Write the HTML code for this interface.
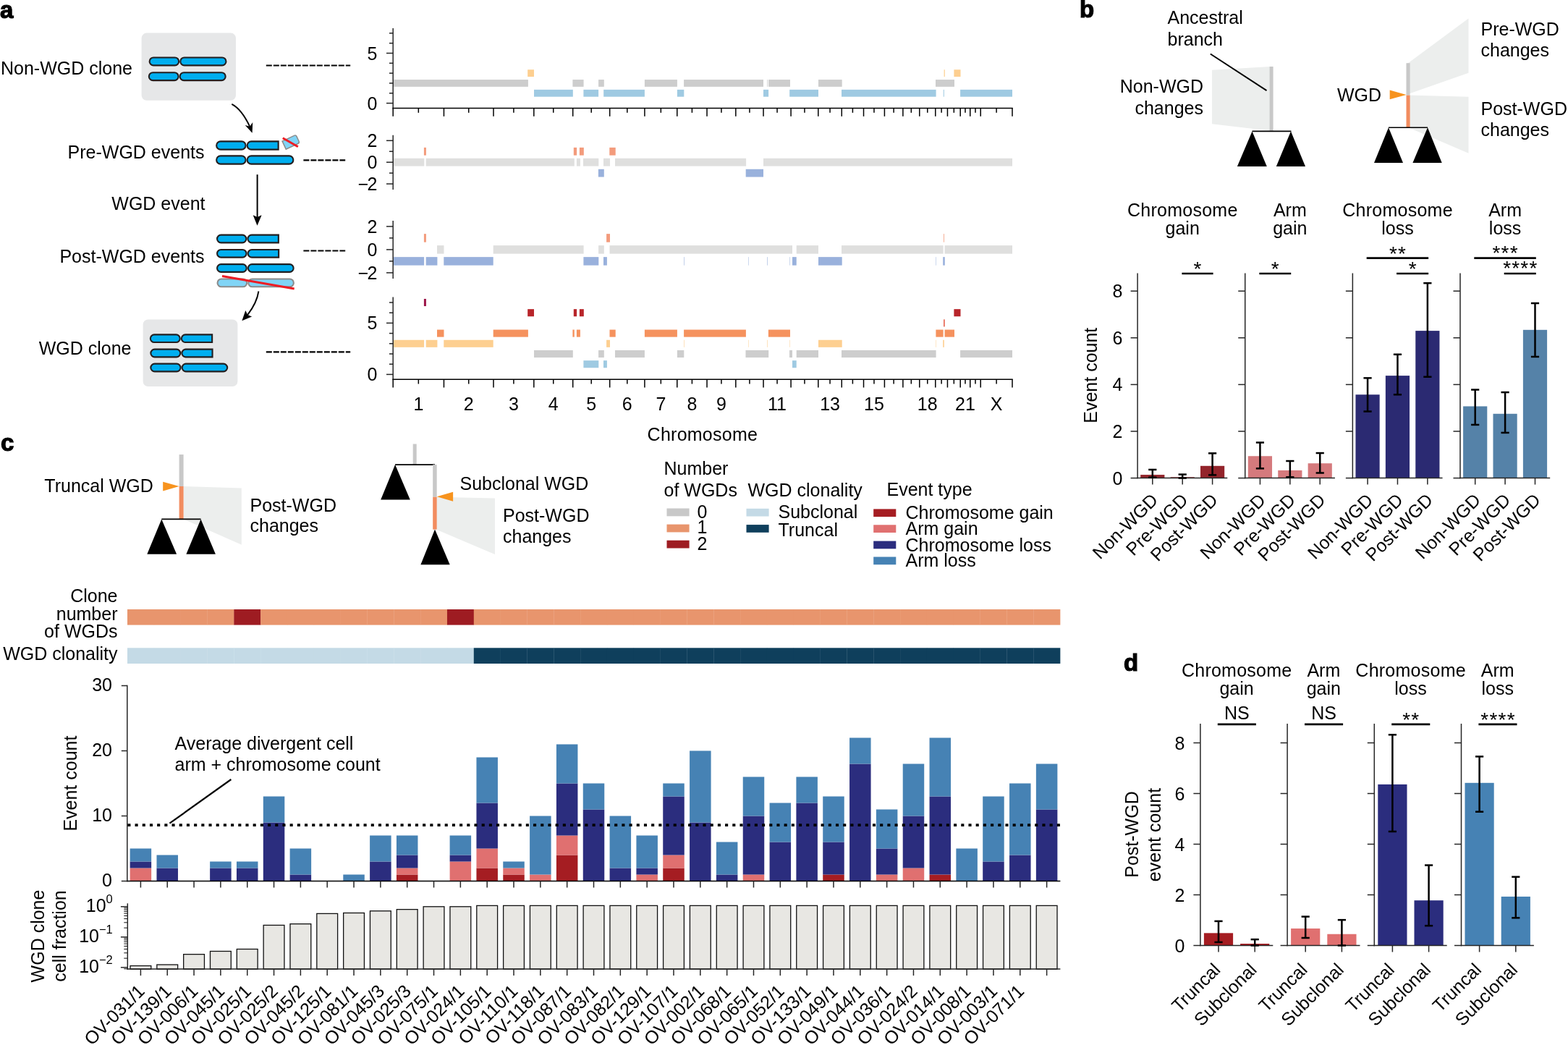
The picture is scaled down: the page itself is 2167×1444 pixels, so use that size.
<!DOCTYPE html>
<html><head><meta charset="utf-8"><title>Figure</title>
<style>html,body{margin:0;padding:0;background:#fff;}svg{display:block;}</style></head>
<body><svg width="2167" height="1444" viewBox="0 0 2167 1444" font-family="'Liberation Sans', Arial, Helvetica, sans-serif" font-size="25" fill="#000">
<rect width="2167" height="1444" fill="#fff"/>
<text x="0" y="24.5" font-size="33" font-weight="bold" stroke="#000" stroke-width="1.2">a</text>
<text x="1" y="103">Non-WGD clone</text>
<text x="282.5" y="219.3" text-anchor="end">Pre-WGD events</text>
<text x="283.5" y="289.5" text-anchor="end">WGD event</text>
<text x="282.5" y="363.4" text-anchor="end">Post-WGD events</text>
<text x="181.5" y="489.8" text-anchor="end">WGD clone</text>
<rect x="195.6" y="45.6" width="130.4" height="93.2" rx="7" fill="#e6e7e8"/>
<rect x="197.6" y="441.4" width="130.8" height="92.7" rx="7" fill="#e6e7e8"/>
<rect x="206.65" y="79.45" width="40.5" height="10.9" rx="5.45" fill="#00aeef" stroke="#231f20" stroke-width="2.1"/>
<rect x="249.25" y="79.45" width="63.2" height="10.9" rx="5.45" fill="#00aeef" stroke="#231f20" stroke-width="2.1"/>
<rect x="205.85" y="100.25" width="40.7" height="10.9" rx="5.45" fill="#00aeef" stroke="#231f20" stroke-width="2.1"/>
<rect x="248.65" y="100.25" width="63" height="10.9" rx="5.45" fill="#00aeef" stroke="#231f20" stroke-width="2.1"/>
<rect x="299.15" y="195.35" width="40.4" height="11.3" rx="5.65" fill="#00aeef" stroke="#231f20" stroke-width="2.1"/>
<path d="M347.3,195.35H384.65V206.65H347.3A5.65,5.65 0 0 1 347.3,195.35Z" fill="#00aeef" stroke="#231f20" stroke-width="2.1"/>
<rect x="299.15" y="215.35" width="40.4" height="11.3" rx="5.65" fill="#00aeef" stroke="#231f20" stroke-width="2.1"/>
<rect x="341.65" y="215.35" width="63.7" height="11.3" rx="5.65" fill="#00aeef" stroke="#231f20" stroke-width="2.1"/>
<g transform="translate(401.9 196.3) rotate(-25)"><path d="M-10.2,-6.1H8A2.6,2.6 0 0 1 10.6,-3.5V3.5A2.6,2.6 0 0 1 8,6.1H-10.2Z" fill="#80d4f6" stroke="#8c8c8c" stroke-width="1.5"/></g>
<line x1="390.8" y1="190.8" x2="411.8" y2="202.8" stroke="#ed1c24" stroke-width="3"/>
<rect x="300.05" y="324.65" width="40.3" height="10.7" rx="5.35" fill="#00aeef" stroke="#231f20" stroke-width="2.1"/>
<path d="M347.8,324.65H384.85V335.35H347.8A5.35,5.35 0 0 1 347.8,324.65Z" fill="#00aeef" stroke="#231f20" stroke-width="2.1"/>
<rect x="300.05" y="344.95" width="40.5" height="10.7" rx="5.35" fill="#00aeef" stroke="#231f20" stroke-width="2.1"/>
<path d="M348,344.95H385.15V355.65H348A5.35,5.35 0 0 1 348,344.95Z" fill="#00aeef" stroke="#231f20" stroke-width="2.1"/>
<rect x="300.05" y="365.15" width="40.7" height="10.7" rx="5.35" fill="#00aeef" stroke="#231f20" stroke-width="2.1"/>
<rect x="342.85" y="365.15" width="62.8" height="10.7" rx="5.35" fill="#00aeef" stroke="#231f20" stroke-width="2.1"/>
<rect x="300.55" y="385.55" width="40.6" height="10.7" rx="5.35" fill="#80d4f6" stroke="#8c8c8c" stroke-width="2.1"/>
<rect x="343.25" y="385.55" width="62.6" height="10.7" rx="5.35" fill="#80d4f6" stroke="#8c8c8c" stroke-width="2.1"/>
<line x1="307" y1="381.4" x2="406.7" y2="399.1" stroke="#ed1c24" stroke-width="3"/>
<rect x="207.85" y="462.35" width="40.9" height="10.7" rx="5.35" fill="#00aeef" stroke="#231f20" stroke-width="2.1"/>
<path d="M256.2,462.35H293.15V473.05H256.2A5.35,5.35 0 0 1 256.2,462.35Z" fill="#00aeef" stroke="#231f20" stroke-width="2.1"/>
<rect x="208.35" y="482.65" width="40.9" height="10.7" rx="5.35" fill="#00aeef" stroke="#231f20" stroke-width="2.1"/>
<path d="M256.7,482.65H293.55V493.35H256.7A5.35,5.35 0 0 1 256.7,482.65Z" fill="#00aeef" stroke="#231f20" stroke-width="2.1"/>
<rect x="208.35" y="502.65" width="41.2" height="10.7" rx="5.35" fill="#00aeef" stroke="#231f20" stroke-width="2.1"/>
<rect x="251.65" y="502.65" width="62.5" height="10.7" rx="5.35" fill="#00aeef" stroke="#231f20" stroke-width="2.1"/>
<path d="M320.3,143.9 Q333.75,150.75 345.2,174.8" fill="none" stroke="#000" stroke-width="1.9"/>
<polygon points="348.6,183.8 338.7,173 345.3,174.8 349.2,168.9" fill="#000"/>
<line x1="355.6" y1="241.2" x2="355.6" y2="301" stroke="#000" stroke-width="2"/>
<polygon points="355.5,311.7 349.7,297.2 355.6,300.1 361.6,297.2" fill="#000"/>
<path d="M357.4,402.5 Q355,418.5 342.3,434.8" fill="none" stroke="#000" stroke-width="1.9"/>
<polygon points="334.4,443.3 339.3,429 342.2,434.9 348.1,437.4" fill="#000"/>
<line x1="367.8" y1="90.5" x2="484.2" y2="90.5" stroke="#000" stroke-width="2.2" stroke-dasharray="8 2"/>
<line x1="419.4" y1="221.3" x2="477.2" y2="221.3" stroke="#000" stroke-width="2.2" stroke-dasharray="8 2"/>
<line x1="419.4" y1="346.5" x2="477.2" y2="346.5" stroke="#000" stroke-width="2.2" stroke-dasharray="8 2"/>
<line x1="367.8" y1="486.3" x2="484.2" y2="486.3" stroke="#000" stroke-width="2.2" stroke-dasharray="8 2"/>
<rect x="544.1" y="110.05" width="185.8" height="9.81" fill="#cdcdcd"/>
<rect x="791.4" y="110.05" width="15.2" height="9.81" fill="#cdcdcd"/>
<rect x="827.1" y="110.05" width="7.7" height="9.81" fill="#cdcdcd"/>
<rect x="890.9" y="110.05" width="45" height="9.81" fill="#cdcdcd"/>
<rect x="945.1" y="110.05" width="109.9" height="9.81" fill="#cdcdcd"/>
<rect x="1060.1" y="110.05" width="0.8" height="9.81" fill="#cdcdcd"/>
<rect x="1062.1" y="110.05" width="29.9" height="9.81" fill="#cdcdcd"/>
<rect x="1131" y="110.05" width="32.7" height="9.81" fill="#cdcdcd"/>
<rect x="1293" y="110.05" width="26" height="9.81" fill="#cdcdcd"/>
<rect x="738" y="123.87" width="53.8" height="9.81" fill="#9fcae2"/>
<rect x="806.4" y="123.87" width="20.7" height="9.81" fill="#9fcae2"/>
<rect x="834.2" y="123.87" width="56.7" height="9.81" fill="#9fcae2"/>
<rect x="935.9" y="123.87" width="9.4" height="9.81" fill="#9fcae2"/>
<rect x="1055" y="123.87" width="7.1" height="9.81" fill="#9fcae2"/>
<rect x="1091.2" y="123.87" width="39.8" height="9.81" fill="#9fcae2"/>
<rect x="1163" y="123.87" width="130.6" height="9.81" fill="#9fcae2"/>
<rect x="1303.8" y="123.87" width="1" height="9.81" fill="#9fcae2"/>
<rect x="1327.1" y="123.87" width="71.9" height="9.81" fill="#9fcae2"/>
<rect x="729.2" y="96.23" width="8.8" height="9.81" fill="#fdcf90"/>
<rect x="1304.6" y="96.23" width="1.2" height="9.81" fill="#fdcf90"/>
<rect x="1318.4" y="96.23" width="9.1" height="9.81" fill="#fdcf90"/>
<line x1="543.2" y1="38.9" x2="543.2" y2="150.35" stroke="#262626" stroke-width="1.5"/>
<line x1="534" y1="142.6" x2="543.2" y2="142.6" stroke="#262626" stroke-width="1.5"/>
<text x="521.5" y="151.6" text-anchor="end">0</text>
<line x1="534" y1="73.5" x2="543.2" y2="73.5" stroke="#262626" stroke-width="1.5"/>
<text x="521.5" y="82.5" text-anchor="end">5</text>
<line x1="538" y1="128.78" x2="543.2" y2="128.78" stroke="#262626" stroke-width="1.5"/>
<line x1="538" y1="114.96" x2="543.2" y2="114.96" stroke="#262626" stroke-width="1.5"/>
<line x1="538" y1="101.14" x2="543.2" y2="101.14" stroke="#262626" stroke-width="1.5"/>
<line x1="538" y1="87.32" x2="543.2" y2="87.32" stroke="#262626" stroke-width="1.5"/>
<line x1="538" y1="59.68" x2="543.2" y2="59.68" stroke="#262626" stroke-width="1.5"/>
<line x1="538" y1="45.86" x2="543.2" y2="45.86" stroke="#262626" stroke-width="1.5"/>
<line x1="542.45" y1="149.6" x2="1399.75" y2="149.6" stroke="#000" stroke-width="1.5"/>
<line x1="543.2" y1="149.6" x2="543.2" y2="160.8" stroke="#000" stroke-width="1.5"/>
<line x1="613.46" y1="149.6" x2="613.46" y2="160.8" stroke="#000" stroke-width="1.5"/>
<line x1="682.01" y1="149.6" x2="682.01" y2="160.8" stroke="#000" stroke-width="1.5"/>
<line x1="737.82" y1="149.6" x2="737.82" y2="160.8" stroke="#000" stroke-width="1.5"/>
<line x1="791.7" y1="149.6" x2="791.7" y2="160.8" stroke="#000" stroke-width="1.5"/>
<line x1="842.69" y1="149.6" x2="842.69" y2="160.8" stroke="#000" stroke-width="1.5"/>
<line x1="890.92" y1="149.6" x2="890.92" y2="160.8" stroke="#000" stroke-width="1.5"/>
<line x1="935.77" y1="149.6" x2="935.77" y2="160.8" stroke="#000" stroke-width="1.5"/>
<line x1="977.03" y1="149.6" x2="977.03" y2="160.8" stroke="#000" stroke-width="1.5"/>
<line x1="1016.83" y1="149.6" x2="1016.83" y2="160.8" stroke="#000" stroke-width="1.5"/>
<line x1="1055.03" y1="149.6" x2="1055.03" y2="160.8" stroke="#000" stroke-width="1.5"/>
<line x1="1093.08" y1="149.6" x2="1093.08" y2="160.8" stroke="#000" stroke-width="1.5"/>
<line x1="1130.81" y1="149.6" x2="1130.81" y2="160.8" stroke="#000" stroke-width="1.5"/>
<line x1="1163.28" y1="149.6" x2="1163.28" y2="160.8" stroke="#000" stroke-width="1.5"/>
<line x1="1193.53" y1="149.6" x2="1193.53" y2="160.8" stroke="#000" stroke-width="1.5"/>
<line x1="1222.42" y1="149.6" x2="1222.42" y2="160.8" stroke="#000" stroke-width="1.5"/>
<line x1="1247.89" y1="149.6" x2="1247.89" y2="160.8" stroke="#000" stroke-width="1.5"/>
<line x1="1270.78" y1="149.6" x2="1270.78" y2="160.8" stroke="#000" stroke-width="1.5"/>
<line x1="1292.79" y1="149.6" x2="1292.79" y2="160.8" stroke="#000" stroke-width="1.5"/>
<line x1="1309.45" y1="149.6" x2="1309.45" y2="160.8" stroke="#000" stroke-width="1.5"/>
<line x1="1327.21" y1="149.6" x2="1327.21" y2="160.8" stroke="#000" stroke-width="1.5"/>
<line x1="1340.76" y1="149.6" x2="1340.76" y2="160.8" stroke="#000" stroke-width="1.5"/>
<line x1="1355.22" y1="149.6" x2="1355.22" y2="160.8" stroke="#000" stroke-width="1.5"/>
<line x1="1399" y1="149.6" x2="1399" y2="160.8" stroke="#000" stroke-width="1.5"/>
<line x1="578.33" y1="149.6" x2="578.33" y2="155.8" stroke="#000" stroke-width="1.5"/>
<line x1="647.73" y1="149.6" x2="647.73" y2="155.8" stroke="#000" stroke-width="1.5"/>
<line x1="709.91" y1="149.6" x2="709.91" y2="155.8" stroke="#000" stroke-width="1.5"/>
<line x1="764.76" y1="149.6" x2="764.76" y2="155.8" stroke="#000" stroke-width="1.5"/>
<line x1="817.2" y1="149.6" x2="817.2" y2="155.8" stroke="#000" stroke-width="1.5"/>
<line x1="866.81" y1="149.6" x2="866.81" y2="155.8" stroke="#000" stroke-width="1.5"/>
<line x1="913.34" y1="149.6" x2="913.34" y2="155.8" stroke="#000" stroke-width="1.5"/>
<line x1="956.4" y1="149.6" x2="956.4" y2="155.8" stroke="#000" stroke-width="1.5"/>
<line x1="996.93" y1="149.6" x2="996.93" y2="155.8" stroke="#000" stroke-width="1.5"/>
<line x1="1035.93" y1="149.6" x2="1035.93" y2="155.8" stroke="#000" stroke-width="1.5"/>
<line x1="1074.05" y1="149.6" x2="1074.05" y2="155.8" stroke="#000" stroke-width="1.5"/>
<line x1="1111.95" y1="149.6" x2="1111.95" y2="155.8" stroke="#000" stroke-width="1.5"/>
<line x1="1147.05" y1="149.6" x2="1147.05" y2="155.8" stroke="#000" stroke-width="1.5"/>
<line x1="1178.4" y1="149.6" x2="1178.4" y2="155.8" stroke="#000" stroke-width="1.5"/>
<line x1="1207.97" y1="149.6" x2="1207.97" y2="155.8" stroke="#000" stroke-width="1.5"/>
<line x1="1235.15" y1="149.6" x2="1235.15" y2="155.8" stroke="#000" stroke-width="1.5"/>
<line x1="1259.33" y1="149.6" x2="1259.33" y2="155.8" stroke="#000" stroke-width="1.5"/>
<line x1="1281.78" y1="149.6" x2="1281.78" y2="155.8" stroke="#000" stroke-width="1.5"/>
<line x1="1301.12" y1="149.6" x2="1301.12" y2="155.8" stroke="#000" stroke-width="1.5"/>
<line x1="1318.33" y1="149.6" x2="1318.33" y2="155.8" stroke="#000" stroke-width="1.5"/>
<line x1="1333.99" y1="149.6" x2="1333.99" y2="155.8" stroke="#000" stroke-width="1.5"/>
<line x1="1347.99" y1="149.6" x2="1347.99" y2="155.8" stroke="#000" stroke-width="1.5"/>
<line x1="1377.11" y1="149.6" x2="1377.11" y2="155.8" stroke="#000" stroke-width="1.5"/>
<rect x="544.1" y="218.82" width="42.2" height="10.76" fill="#dfdfde"/>
<rect x="588.7" y="218.82" width="205.1" height="10.76" fill="#dfdfde"/>
<rect x="796.9" y="218.82" width="5" height="10.76" fill="#dfdfde"/>
<rect x="806" y="218.82" width="21.3" height="10.76" fill="#dfdfde"/>
<rect x="834" y="218.82" width="9" height="10.76" fill="#dfdfde"/>
<rect x="850" y="218.82" width="181.1" height="10.76" fill="#dfdfde"/>
<rect x="1055" y="218.82" width="344" height="10.76" fill="#dfdfde"/>
<rect x="585.9" y="203.87" width="3" height="10.76" fill="#f39b7c"/>
<rect x="792.8" y="203.87" width="4.3" height="10.76" fill="#f39b7c"/>
<rect x="800.9" y="203.87" width="5.9" height="10.76" fill="#f39b7c"/>
<rect x="842.3" y="203.87" width="8.4" height="10.76" fill="#f39b7c"/>
<rect x="826.9" y="233.77" width="7.9" height="10.76" fill="#99b1dc"/>
<rect x="1030.7" y="233.77" width="24.3" height="10.76" fill="#99b1dc"/>
<line x1="543.2" y1="186.8" x2="543.2" y2="261.9" stroke="#262626" stroke-width="1.5"/>
<line x1="534" y1="254.1" x2="543.2" y2="254.1" stroke="#262626" stroke-width="1.5"/>
<text x="521.5" y="263.1" text-anchor="end">−<tspan dx="-1.8">2</tspan></text>
<line x1="534" y1="224.2" x2="543.2" y2="224.2" stroke="#262626" stroke-width="1.5"/>
<text x="521.5" y="233.2" text-anchor="end">0</text>
<line x1="534" y1="194.3" x2="543.2" y2="194.3" stroke="#262626" stroke-width="1.5"/>
<text x="521.5" y="203.3" text-anchor="end">2</text>
<line x1="538" y1="239.15" x2="543.2" y2="239.15" stroke="#262626" stroke-width="1.5"/>
<line x1="538" y1="209.25" x2="543.2" y2="209.25" stroke="#262626" stroke-width="1.5"/>
<rect x="604" y="339.14" width="9.5" height="11.52" fill="#dfdfde"/>
<rect x="681.7" y="339.14" width="124.9" height="11.52" fill="#dfdfde"/>
<rect x="827.1" y="339.14" width="7.7" height="11.52" fill="#dfdfde"/>
<rect x="842.5" y="339.14" width="252.5" height="11.52" fill="#dfdfde"/>
<rect x="1100.7" y="339.14" width="30.3" height="11.52" fill="#dfdfde"/>
<rect x="1163" y="339.14" width="140.6" height="11.52" fill="#dfdfde"/>
<rect x="1305.6" y="339.14" width="93.4" height="11.52" fill="#dfdfde"/>
<rect x="585.9" y="323.14" width="3" height="11.52" fill="#f39b7c"/>
<rect x="838.1" y="323.14" width="4.9" height="11.52" fill="#f39b7c"/>
<rect x="1304" y="323.14" width="0.8" height="11.52" fill="#f39b7c"/>
<rect x="544.1" y="355.14" width="42" height="11.52" fill="#99b1dc"/>
<rect x="588.7" y="355.14" width="15.7" height="11.52" fill="#99b1dc"/>
<rect x="613.3" y="355.14" width="68.4" height="11.52" fill="#99b1dc"/>
<rect x="806.4" y="355.14" width="20.9" height="11.52" fill="#99b1dc"/>
<rect x="834" y="355.14" width="4.9" height="11.52" fill="#99b1dc"/>
<rect x="945.1" y="355.14" width="0.6" height="11.52" fill="#99b1dc"/>
<rect x="1034.3" y="355.14" width="0.5" height="11.52" fill="#99b1dc"/>
<rect x="1060.3" y="355.14" width="0.6" height="11.52" fill="#99b1dc"/>
<rect x="1091.4" y="355.14" width="0.5" height="11.52" fill="#99b1dc"/>
<rect x="1095" y="355.14" width="5.7" height="11.52" fill="#99b1dc"/>
<rect x="1131" y="355.14" width="32.7" height="11.52" fill="#99b1dc"/>
<rect x="1293.2" y="355.14" width="0.5" height="11.52" fill="#99b1dc"/>
<rect x="1303.2" y="355.14" width="2.6" height="11.52" fill="#99b1dc"/>
<line x1="543.2" y1="304.9" x2="543.2" y2="384.9" stroke="#262626" stroke-width="1.5"/>
<line x1="534" y1="376.9" x2="543.2" y2="376.9" stroke="#262626" stroke-width="1.5"/>
<text x="521.5" y="385.9" text-anchor="end">−<tspan dx="-1.8">2</tspan></text>
<line x1="534" y1="344.9" x2="543.2" y2="344.9" stroke="#262626" stroke-width="1.5"/>
<text x="521.5" y="353.9" text-anchor="end">0</text>
<line x1="534" y1="312.9" x2="543.2" y2="312.9" stroke="#262626" stroke-width="1.5"/>
<text x="521.5" y="321.9" text-anchor="end">2</text>
<line x1="538" y1="360.9" x2="543.2" y2="360.9" stroke="#262626" stroke-width="1.5"/>
<line x1="538" y1="328.9" x2="543.2" y2="328.9" stroke="#262626" stroke-width="1.5"/>
<rect x="544.1" y="469.76" width="42" height="10.08" fill="#fdcf90"/>
<rect x="588.7" y="469.76" width="15.7" height="10.08" fill="#fdcf90"/>
<rect x="613.3" y="469.76" width="68.4" height="10.08" fill="#fdcf90"/>
<rect x="838.1" y="469.76" width="4.9" height="10.08" fill="#fdcf90"/>
<rect x="945.1" y="469.76" width="0.6" height="10.08" fill="#fdcf90"/>
<rect x="1034.3" y="469.76" width="0.5" height="10.08" fill="#fdcf90"/>
<rect x="1060.3" y="469.76" width="0.6" height="10.08" fill="#fdcf90"/>
<rect x="1091.4" y="469.76" width="0.5" height="10.08" fill="#fdcf90"/>
<rect x="1131" y="469.76" width="32.7" height="10.08" fill="#fdcf90"/>
<rect x="1293.2" y="469.76" width="0.5" height="10.08" fill="#fdcf90"/>
<rect x="1303.2" y="469.76" width="1.6" height="10.08" fill="#fdcf90"/>
<rect x="604" y="455.56" width="9.5" height="10.08" fill="#f5925e"/>
<rect x="681.7" y="455.56" width="48.2" height="10.08" fill="#f5925e"/>
<rect x="791.4" y="455.56" width="2.4" height="10.08" fill="#f5925e"/>
<rect x="796.9" y="455.56" width="5" height="10.08" fill="#f5925e"/>
<rect x="842.5" y="455.56" width="8.2" height="10.08" fill="#f5925e"/>
<rect x="890.9" y="455.56" width="45" height="10.08" fill="#f5925e"/>
<rect x="945.1" y="455.56" width="85.8" height="10.08" fill="#f5925e"/>
<rect x="1061.9" y="455.56" width="30.1" height="10.08" fill="#f5925e"/>
<rect x="1293.4" y="455.56" width="10.2" height="10.08" fill="#f5925e"/>
<rect x="1305.6" y="455.56" width="13.4" height="10.08" fill="#f5925e"/>
<rect x="738" y="483.96" width="53.8" height="10.08" fill="#cdcdcd"/>
<rect x="827.1" y="483.96" width="7.7" height="10.08" fill="#cdcdcd"/>
<rect x="850" y="483.96" width="40.9" height="10.08" fill="#cdcdcd"/>
<rect x="935.9" y="483.96" width="9.4" height="10.08" fill="#cdcdcd"/>
<rect x="1030.5" y="483.96" width="31.7" height="10.08" fill="#cdcdcd"/>
<rect x="1091" y="483.96" width="4" height="10.08" fill="#cdcdcd"/>
<rect x="1100.7" y="483.96" width="30.3" height="10.08" fill="#cdcdcd"/>
<rect x="1163" y="483.96" width="130.6" height="10.08" fill="#cdcdcd"/>
<rect x="1327.1" y="483.96" width="71.9" height="10.08" fill="#cdcdcd"/>
<rect x="806.4" y="498.16" width="20.9" height="10.08" fill="#9fcae2"/>
<rect x="834" y="498.16" width="4.9" height="10.08" fill="#9fcae2"/>
<rect x="1095" y="498.16" width="5.7" height="10.08" fill="#9fcae2"/>
<rect x="729.2" y="427.16" width="8.8" height="10.08" fill="#b8252a"/>
<rect x="792.8" y="427.16" width="4.3" height="10.08" fill="#b8252a"/>
<rect x="800.9" y="427.16" width="5.9" height="10.08" fill="#b8252a"/>
<rect x="1318.4" y="427.16" width="9.1" height="10.08" fill="#b8252a"/>
<rect x="1304.2" y="441.36" width="1.4" height="10.08" fill="#e34a33"/>
<rect x="585.9" y="412.96" width="3" height="10.08" fill="#9c1548"/>
<line x1="543.2" y1="410.5" x2="543.2" y2="525.05" stroke="#262626" stroke-width="1.5"/>
<line x1="534" y1="517.4" x2="543.2" y2="517.4" stroke="#262626" stroke-width="1.5"/>
<text x="521.5" y="526.4" text-anchor="end">0</text>
<line x1="534" y1="446.4" x2="543.2" y2="446.4" stroke="#262626" stroke-width="1.5"/>
<text x="521.5" y="455.4" text-anchor="end">5</text>
<line x1="538" y1="503.2" x2="543.2" y2="503.2" stroke="#262626" stroke-width="1.5"/>
<line x1="538" y1="489" x2="543.2" y2="489" stroke="#262626" stroke-width="1.5"/>
<line x1="538" y1="474.8" x2="543.2" y2="474.8" stroke="#262626" stroke-width="1.5"/>
<line x1="538" y1="460.6" x2="543.2" y2="460.6" stroke="#262626" stroke-width="1.5"/>
<line x1="538" y1="432.2" x2="543.2" y2="432.2" stroke="#262626" stroke-width="1.5"/>
<line x1="538" y1="418" x2="543.2" y2="418" stroke="#262626" stroke-width="1.5"/>
<line x1="542.45" y1="524.3" x2="1399.75" y2="524.3" stroke="#000" stroke-width="1.5"/>
<line x1="543.2" y1="524.3" x2="543.2" y2="535.5" stroke="#000" stroke-width="1.5"/>
<line x1="613.46" y1="524.3" x2="613.46" y2="535.5" stroke="#000" stroke-width="1.5"/>
<line x1="682.01" y1="524.3" x2="682.01" y2="535.5" stroke="#000" stroke-width="1.5"/>
<line x1="737.82" y1="524.3" x2="737.82" y2="535.5" stroke="#000" stroke-width="1.5"/>
<line x1="791.7" y1="524.3" x2="791.7" y2="535.5" stroke="#000" stroke-width="1.5"/>
<line x1="842.69" y1="524.3" x2="842.69" y2="535.5" stroke="#000" stroke-width="1.5"/>
<line x1="890.92" y1="524.3" x2="890.92" y2="535.5" stroke="#000" stroke-width="1.5"/>
<line x1="935.77" y1="524.3" x2="935.77" y2="535.5" stroke="#000" stroke-width="1.5"/>
<line x1="977.03" y1="524.3" x2="977.03" y2="535.5" stroke="#000" stroke-width="1.5"/>
<line x1="1016.83" y1="524.3" x2="1016.83" y2="535.5" stroke="#000" stroke-width="1.5"/>
<line x1="1055.03" y1="524.3" x2="1055.03" y2="535.5" stroke="#000" stroke-width="1.5"/>
<line x1="1093.08" y1="524.3" x2="1093.08" y2="535.5" stroke="#000" stroke-width="1.5"/>
<line x1="1130.81" y1="524.3" x2="1130.81" y2="535.5" stroke="#000" stroke-width="1.5"/>
<line x1="1163.28" y1="524.3" x2="1163.28" y2="535.5" stroke="#000" stroke-width="1.5"/>
<line x1="1193.53" y1="524.3" x2="1193.53" y2="535.5" stroke="#000" stroke-width="1.5"/>
<line x1="1222.42" y1="524.3" x2="1222.42" y2="535.5" stroke="#000" stroke-width="1.5"/>
<line x1="1247.89" y1="524.3" x2="1247.89" y2="535.5" stroke="#000" stroke-width="1.5"/>
<line x1="1270.78" y1="524.3" x2="1270.78" y2="535.5" stroke="#000" stroke-width="1.5"/>
<line x1="1292.79" y1="524.3" x2="1292.79" y2="535.5" stroke="#000" stroke-width="1.5"/>
<line x1="1309.45" y1="524.3" x2="1309.45" y2="535.5" stroke="#000" stroke-width="1.5"/>
<line x1="1327.21" y1="524.3" x2="1327.21" y2="535.5" stroke="#000" stroke-width="1.5"/>
<line x1="1340.76" y1="524.3" x2="1340.76" y2="535.5" stroke="#000" stroke-width="1.5"/>
<line x1="1355.22" y1="524.3" x2="1355.22" y2="535.5" stroke="#000" stroke-width="1.5"/>
<line x1="1399" y1="524.3" x2="1399" y2="535.5" stroke="#000" stroke-width="1.5"/>
<line x1="578.33" y1="524.3" x2="578.33" y2="530.5" stroke="#000" stroke-width="1.5"/>
<line x1="647.73" y1="524.3" x2="647.73" y2="530.5" stroke="#000" stroke-width="1.5"/>
<line x1="709.91" y1="524.3" x2="709.91" y2="530.5" stroke="#000" stroke-width="1.5"/>
<line x1="764.76" y1="524.3" x2="764.76" y2="530.5" stroke="#000" stroke-width="1.5"/>
<line x1="817.2" y1="524.3" x2="817.2" y2="530.5" stroke="#000" stroke-width="1.5"/>
<line x1="866.81" y1="524.3" x2="866.81" y2="530.5" stroke="#000" stroke-width="1.5"/>
<line x1="913.34" y1="524.3" x2="913.34" y2="530.5" stroke="#000" stroke-width="1.5"/>
<line x1="956.4" y1="524.3" x2="956.4" y2="530.5" stroke="#000" stroke-width="1.5"/>
<line x1="996.93" y1="524.3" x2="996.93" y2="530.5" stroke="#000" stroke-width="1.5"/>
<line x1="1035.93" y1="524.3" x2="1035.93" y2="530.5" stroke="#000" stroke-width="1.5"/>
<line x1="1074.05" y1="524.3" x2="1074.05" y2="530.5" stroke="#000" stroke-width="1.5"/>
<line x1="1111.95" y1="524.3" x2="1111.95" y2="530.5" stroke="#000" stroke-width="1.5"/>
<line x1="1147.05" y1="524.3" x2="1147.05" y2="530.5" stroke="#000" stroke-width="1.5"/>
<line x1="1178.4" y1="524.3" x2="1178.4" y2="530.5" stroke="#000" stroke-width="1.5"/>
<line x1="1207.97" y1="524.3" x2="1207.97" y2="530.5" stroke="#000" stroke-width="1.5"/>
<line x1="1235.15" y1="524.3" x2="1235.15" y2="530.5" stroke="#000" stroke-width="1.5"/>
<line x1="1259.33" y1="524.3" x2="1259.33" y2="530.5" stroke="#000" stroke-width="1.5"/>
<line x1="1281.78" y1="524.3" x2="1281.78" y2="530.5" stroke="#000" stroke-width="1.5"/>
<line x1="1301.12" y1="524.3" x2="1301.12" y2="530.5" stroke="#000" stroke-width="1.5"/>
<line x1="1318.33" y1="524.3" x2="1318.33" y2="530.5" stroke="#000" stroke-width="1.5"/>
<line x1="1333.99" y1="524.3" x2="1333.99" y2="530.5" stroke="#000" stroke-width="1.5"/>
<line x1="1347.99" y1="524.3" x2="1347.99" y2="530.5" stroke="#000" stroke-width="1.5"/>
<line x1="1377.11" y1="524.3" x2="1377.11" y2="530.5" stroke="#000" stroke-width="1.5"/>
<text x="578.33" y="567" text-anchor="middle">1</text>
<text x="647.73" y="567" text-anchor="middle">2</text>
<text x="709.91" y="567" text-anchor="middle">3</text>
<text x="764.76" y="567" text-anchor="middle">4</text>
<text x="817.2" y="567" text-anchor="middle">5</text>
<text x="866.81" y="567" text-anchor="middle">6</text>
<text x="913.34" y="567" text-anchor="middle">7</text>
<text x="956.4" y="567" text-anchor="middle">8</text>
<text x="996.93" y="567" text-anchor="middle">9</text>
<text x="1074.05" y="567" text-anchor="middle">11</text>
<text x="1147.05" y="567" text-anchor="middle">13</text>
<text x="1207.97" y="567" text-anchor="middle">15</text>
<text x="1281.78" y="567" text-anchor="middle">18</text>
<text x="1333.99" y="567" text-anchor="middle">21</text>
<text x="1377.11" y="567" text-anchor="middle">X</text>
<text x="970.9" y="609" text-anchor="middle" letter-spacing="0.25">Chromosome</text>
<text x="1492" y="23.5" font-size="33" font-weight="bold" stroke="#000" stroke-width="1.2">b</text>
<polygon points="1675,96.7 1755.8,92 1755.8,180.7 1675,171.2" fill="#eceeed"/>
<rect x="1754.6" y="92" width="5" height="89" fill="#c8c8c8"/>
<line x1="1730.5" y1="181.4" x2="1784.4" y2="181.4" stroke="#000" stroke-width="1.6"/>
<polygon points="1730.5,181.4 1709.9,229.9 1750.8,229.9" fill="#000"/>
<polygon points="1784,181.4 1763.8,229.9 1804,229.9" fill="#000"/>
<line x1="1672.8" y1="74.5" x2="1750.5" y2="125.2" stroke="#000" stroke-width="2"/>
<text x="1613.5" y="33.3">Ancestral</text>
<text x="1613.5" y="62.8">branch</text>
<text x="1663" y="127.8" text-anchor="end">Non-WGD</text>
<text x="1663" y="157.6" text-anchor="end">changes</text>
<polygon points="1946,87.2 2029.5,25.4 2029.5,100.8 1946,130" fill="#eceeed"/>
<polygon points="1946,131.6 2029.5,133.8 2029.5,211.8 1946,176" fill="#eceeed"/>
<rect x="1943.5" y="87.2" width="5.1" height="44.4" fill="#c8c8c8"/>
<rect x="1943.5" y="131.6" width="5.1" height="44.9" fill="#f28c5f"/>
<line x1="1919" y1="176.3" x2="1973" y2="176.3" stroke="#000" stroke-width="1.6"/>
<polygon points="1919,176.3 1899,225.1 1939,225.1" fill="#000"/>
<polygon points="1973,176.3 1952.4,225.1 1992.7,225.1" fill="#000"/>
<polygon points="1920.7,124.6 1920.7,137.3 1943.5,131" fill="#f7931e"/>
<text x="1909" y="139.5" text-anchor="end">WGD</text>
<text x="2046.5" y="49.1">Pre-WGD</text>
<text x="2046.5" y="77.7">changes</text>
<text x="2046.5" y="158.5">Post-WGD</text>
<text x="2046.5" y="187.7">changes</text>
<rect x="1576.2" y="656.08" width="33.2" height="4.52" fill="#93242b"/>
<rect x="1617.6" y="659.31" width="33.2" height="1.29" fill="#93242b"/>
<rect x="1659" y="643.8" width="33.2" height="16.8" fill="#93242b"/>
<line x1="1572.1" y1="377.4" x2="1572.1" y2="661.35" stroke="#262626" stroke-width="1.5"/>
<line x1="1571.35" y1="660.6" x2="1696.3" y2="660.6" stroke="#262626" stroke-width="1.5"/>
<line x1="1562.6" y1="660.6" x2="1572.1" y2="660.6" stroke="#262626" stroke-width="1.5"/>
<text x="1551.5" y="669.6" text-anchor="end">0</text>
<line x1="1562.6" y1="596" x2="1572.1" y2="596" stroke="#262626" stroke-width="1.5"/>
<text x="1551.5" y="605" text-anchor="end">2</text>
<line x1="1562.6" y1="531.4" x2="1572.1" y2="531.4" stroke="#262626" stroke-width="1.5"/>
<text x="1551.5" y="540.4" text-anchor="end">4</text>
<line x1="1562.6" y1="466.8" x2="1572.1" y2="466.8" stroke="#262626" stroke-width="1.5"/>
<text x="1551.5" y="475.8" text-anchor="end">6</text>
<line x1="1562.6" y1="402.2" x2="1572.1" y2="402.2" stroke="#262626" stroke-width="1.5"/>
<text x="1551.5" y="411.2" text-anchor="end">8</text>
<line x1="1592.8" y1="660.6" x2="1592.8" y2="669.6" stroke="#262626" stroke-width="1.5"/>
<line x1="1634.2" y1="660.6" x2="1634.2" y2="669.6" stroke="#262626" stroke-width="1.5"/>
<line x1="1675.6" y1="660.6" x2="1675.6" y2="669.6" stroke="#262626" stroke-width="1.5"/>
<line x1="1592.8" y1="648.97" x2="1592.8" y2="659.63" stroke="#000" stroke-width="2.5"/>
<line x1="1587.2" y1="648.97" x2="1598.4" y2="648.97" stroke="#000" stroke-width="2.5"/>
<line x1="1587.2" y1="659.63" x2="1598.4" y2="659.63" stroke="#000" stroke-width="2.5"/>
<line x1="1634.2" y1="655.59" x2="1634.2" y2="660.6" stroke="#000" stroke-width="2.5"/>
<line x1="1628.6" y1="655.59" x2="1639.8" y2="655.59" stroke="#000" stroke-width="2.5"/>
<line x1="1628.6" y1="660.6" x2="1639.8" y2="660.6" stroke="#000" stroke-width="2.5"/>
<line x1="1675.6" y1="626.36" x2="1675.6" y2="656.4" stroke="#000" stroke-width="2.5"/>
<line x1="1670" y1="626.36" x2="1681.2" y2="626.36" stroke="#000" stroke-width="2.5"/>
<line x1="1670" y1="656.4" x2="1681.2" y2="656.4" stroke="#000" stroke-width="2.5"/>
<text x="1634.32" y="299.2" text-anchor="middle" letter-spacing="0.25">Chromosome</text>
<text x="1634.2" y="324" text-anchor="middle">gain</text>
<text x="1601.8" y="692.6" text-anchor="end" transform="rotate(-45 1601.8 692.6)">Non-WGD</text>
<text x="1643.2" y="692.6" text-anchor="end" transform="rotate(-45 1643.2 692.6)">Pre-WGD</text>
<text x="1684.6" y="692.6" text-anchor="end" transform="rotate(-45 1684.6 692.6)">Post-WGD</text>
<rect x="1724.83" y="630.24" width="33.2" height="30.36" fill="#d57a7d"/>
<rect x="1766.23" y="649.94" width="33.2" height="10.66" fill="#d57a7d"/>
<rect x="1807.63" y="640.25" width="33.2" height="20.35" fill="#d57a7d"/>
<line x1="1720.73" y1="377.4" x2="1720.73" y2="661.35" stroke="#262626" stroke-width="1.5"/>
<line x1="1719.98" y1="660.6" x2="1844.93" y2="660.6" stroke="#262626" stroke-width="1.5"/>
<line x1="1711.23" y1="660.6" x2="1720.73" y2="660.6" stroke="#262626" stroke-width="1.5"/>
<line x1="1711.23" y1="596" x2="1720.73" y2="596" stroke="#262626" stroke-width="1.5"/>
<line x1="1711.23" y1="531.4" x2="1720.73" y2="531.4" stroke="#262626" stroke-width="1.5"/>
<line x1="1711.23" y1="466.8" x2="1720.73" y2="466.8" stroke="#262626" stroke-width="1.5"/>
<line x1="1711.23" y1="402.2" x2="1720.73" y2="402.2" stroke="#262626" stroke-width="1.5"/>
<line x1="1741.43" y1="660.6" x2="1741.43" y2="669.6" stroke="#262626" stroke-width="1.5"/>
<line x1="1782.83" y1="660.6" x2="1782.83" y2="669.6" stroke="#262626" stroke-width="1.5"/>
<line x1="1824.23" y1="660.6" x2="1824.23" y2="669.6" stroke="#262626" stroke-width="1.5"/>
<line x1="1741.43" y1="611.5" x2="1741.43" y2="647.36" stroke="#000" stroke-width="2.5"/>
<line x1="1735.83" y1="611.5" x2="1747.03" y2="611.5" stroke="#000" stroke-width="2.5"/>
<line x1="1735.83" y1="647.36" x2="1747.03" y2="647.36" stroke="#000" stroke-width="2.5"/>
<line x1="1782.83" y1="637.02" x2="1782.83" y2="659.31" stroke="#000" stroke-width="2.5"/>
<line x1="1777.23" y1="637.02" x2="1788.43" y2="637.02" stroke="#000" stroke-width="2.5"/>
<line x1="1777.23" y1="659.31" x2="1788.43" y2="659.31" stroke="#000" stroke-width="2.5"/>
<line x1="1824.23" y1="626.04" x2="1824.23" y2="653.49" stroke="#000" stroke-width="2.5"/>
<line x1="1818.63" y1="626.04" x2="1829.83" y2="626.04" stroke="#000" stroke-width="2.5"/>
<line x1="1818.63" y1="653.49" x2="1829.83" y2="653.49" stroke="#000" stroke-width="2.5"/>
<text x="1782.83" y="299.2" text-anchor="middle">Arm</text>
<text x="1782.83" y="324" text-anchor="middle">gain</text>
<text x="1750.43" y="692.6" text-anchor="end" transform="rotate(-45 1750.43 692.6)">Non-WGD</text>
<text x="1791.83" y="692.6" text-anchor="end" transform="rotate(-45 1791.83 692.6)">Pre-WGD</text>
<text x="1833.23" y="692.6" text-anchor="end" transform="rotate(-45 1833.23 692.6)">Post-WGD</text>
<rect x="1873.46" y="545.29" width="33.2" height="115.31" fill="#2b2a72"/>
<rect x="1914.86" y="519.13" width="33.2" height="141.47" fill="#2b2a72"/>
<rect x="1956.26" y="457.11" width="33.2" height="203.49" fill="#2b2a72"/>
<line x1="1869.36" y1="377.4" x2="1869.36" y2="661.35" stroke="#262626" stroke-width="1.5"/>
<line x1="1868.61" y1="660.6" x2="1993.56" y2="660.6" stroke="#262626" stroke-width="1.5"/>
<line x1="1859.86" y1="660.6" x2="1869.36" y2="660.6" stroke="#262626" stroke-width="1.5"/>
<line x1="1859.86" y1="596" x2="1869.36" y2="596" stroke="#262626" stroke-width="1.5"/>
<line x1="1859.86" y1="531.4" x2="1869.36" y2="531.4" stroke="#262626" stroke-width="1.5"/>
<line x1="1859.86" y1="466.8" x2="1869.36" y2="466.8" stroke="#262626" stroke-width="1.5"/>
<line x1="1859.86" y1="402.2" x2="1869.36" y2="402.2" stroke="#262626" stroke-width="1.5"/>
<line x1="1890.06" y1="660.6" x2="1890.06" y2="669.6" stroke="#262626" stroke-width="1.5"/>
<line x1="1931.46" y1="660.6" x2="1931.46" y2="669.6" stroke="#262626" stroke-width="1.5"/>
<line x1="1972.86" y1="660.6" x2="1972.86" y2="669.6" stroke="#262626" stroke-width="1.5"/>
<line x1="1890.06" y1="522.36" x2="1890.06" y2="568.55" stroke="#000" stroke-width="2.5"/>
<line x1="1884.46" y1="522.36" x2="1895.66" y2="522.36" stroke="#000" stroke-width="2.5"/>
<line x1="1884.46" y1="568.55" x2="1895.66" y2="568.55" stroke="#000" stroke-width="2.5"/>
<line x1="1931.46" y1="489.73" x2="1931.46" y2="545.29" stroke="#000" stroke-width="2.5"/>
<line x1="1925.86" y1="489.73" x2="1937.06" y2="489.73" stroke="#000" stroke-width="2.5"/>
<line x1="1925.86" y1="545.29" x2="1937.06" y2="545.29" stroke="#000" stroke-width="2.5"/>
<line x1="1972.86" y1="391.22" x2="1972.86" y2="520.74" stroke="#000" stroke-width="2.5"/>
<line x1="1967.26" y1="391.22" x2="1978.46" y2="391.22" stroke="#000" stroke-width="2.5"/>
<line x1="1967.26" y1="520.74" x2="1978.46" y2="520.74" stroke="#000" stroke-width="2.5"/>
<text x="1931.58" y="299.2" text-anchor="middle" letter-spacing="0.25">Chromosome</text>
<text x="1931.46" y="324" text-anchor="middle">loss</text>
<text x="1899.06" y="692.6" text-anchor="end" transform="rotate(-45 1899.06 692.6)">Non-WGD</text>
<text x="1940.46" y="692.6" text-anchor="end" transform="rotate(-45 1940.46 692.6)">Pre-WGD</text>
<text x="1981.86" y="692.6" text-anchor="end" transform="rotate(-45 1981.86 692.6)">Post-WGD</text>
<rect x="2022.09" y="561.44" width="33.2" height="99.16" fill="#5582a8"/>
<rect x="2063.49" y="571.78" width="33.2" height="88.82" fill="#5582a8"/>
<rect x="2104.89" y="455.82" width="33.2" height="204.78" fill="#5582a8"/>
<line x1="2017.99" y1="377.4" x2="2017.99" y2="661.35" stroke="#262626" stroke-width="1.5"/>
<line x1="2017.24" y1="660.6" x2="2142.19" y2="660.6" stroke="#262626" stroke-width="1.5"/>
<line x1="2008.49" y1="660.6" x2="2017.99" y2="660.6" stroke="#262626" stroke-width="1.5"/>
<line x1="2008.49" y1="596" x2="2017.99" y2="596" stroke="#262626" stroke-width="1.5"/>
<line x1="2008.49" y1="531.4" x2="2017.99" y2="531.4" stroke="#262626" stroke-width="1.5"/>
<line x1="2008.49" y1="466.8" x2="2017.99" y2="466.8" stroke="#262626" stroke-width="1.5"/>
<line x1="2008.49" y1="402.2" x2="2017.99" y2="402.2" stroke="#262626" stroke-width="1.5"/>
<line x1="2038.69" y1="660.6" x2="2038.69" y2="669.6" stroke="#262626" stroke-width="1.5"/>
<line x1="2080.09" y1="660.6" x2="2080.09" y2="669.6" stroke="#262626" stroke-width="1.5"/>
<line x1="2121.49" y1="660.6" x2="2121.49" y2="669.6" stroke="#262626" stroke-width="1.5"/>
<line x1="2038.69" y1="538.51" x2="2038.69" y2="586.96" stroke="#000" stroke-width="2.5"/>
<line x1="2033.09" y1="538.51" x2="2044.29" y2="538.51" stroke="#000" stroke-width="2.5"/>
<line x1="2033.09" y1="586.96" x2="2044.29" y2="586.96" stroke="#000" stroke-width="2.5"/>
<line x1="2080.09" y1="542.06" x2="2080.09" y2="597.94" stroke="#000" stroke-width="2.5"/>
<line x1="2074.49" y1="542.06" x2="2085.69" y2="542.06" stroke="#000" stroke-width="2.5"/>
<line x1="2074.49" y1="597.94" x2="2085.69" y2="597.94" stroke="#000" stroke-width="2.5"/>
<line x1="2121.49" y1="419" x2="2121.49" y2="492.96" stroke="#000" stroke-width="2.5"/>
<line x1="2115.89" y1="419" x2="2127.09" y2="419" stroke="#000" stroke-width="2.5"/>
<line x1="2115.89" y1="492.96" x2="2127.09" y2="492.96" stroke="#000" stroke-width="2.5"/>
<text x="2080.09" y="299.2" text-anchor="middle">Arm</text>
<text x="2080.09" y="324" text-anchor="middle">loss</text>
<text x="2047.69" y="692.6" text-anchor="end" transform="rotate(-45 2047.69 692.6)">Non-WGD</text>
<text x="2089.09" y="692.6" text-anchor="end" transform="rotate(-45 2089.09 692.6)">Pre-WGD</text>
<text x="2130.49" y="692.6" text-anchor="end" transform="rotate(-45 2130.49 692.6)">Post-WGD</text>
<line x1="1633.4" y1="378" x2="1676.6" y2="378" stroke="#000" stroke-width="2.7"/>
<text x="1655.6" y="380.8" font-size="28" text-anchor="middle" letter-spacing="1.2">*</text>
<line x1="1740.33" y1="378" x2="1784.23" y2="378" stroke="#000" stroke-width="2.7"/>
<text x="1762.88" y="380.8" font-size="28" text-anchor="middle" letter-spacing="1.2">*</text>
<line x1="1888.66" y1="356.6" x2="1974.16" y2="356.6" stroke="#000" stroke-width="2.7"/>
<text x="1932.01" y="360" font-size="28" text-anchor="middle" letter-spacing="1.2">**</text>
<line x1="1930.06" y1="378" x2="1974.16" y2="378" stroke="#000" stroke-width="2.7"/>
<text x="1952.71" y="380.8" font-size="28" text-anchor="middle" letter-spacing="1.2">*</text>
<line x1="2037.29" y1="356.6" x2="2122.79" y2="356.6" stroke="#000" stroke-width="2.7"/>
<text x="2080.64" y="359.2" font-size="28" text-anchor="middle" letter-spacing="1.2">***</text>
<line x1="2078.69" y1="378" x2="2122.79" y2="378" stroke="#000" stroke-width="2.7"/>
<text x="2101.34" y="380.4" font-size="28" text-anchor="middle" letter-spacing="1.2">****</text>
<text x="1516" y="518.7" text-anchor="middle" transform="rotate(-90 1516 518.7)">Event count</text>
<text x="1" y="623" font-size="33" font-weight="bold" stroke="#000" stroke-width="1.2">c</text>
<rect x="247.6" y="628.1" width="6" height="43.9" fill="#c8c8c8"/>
<polygon points="253.6,672 333.8,674.6 333.8,752.8 253.6,717.4" fill="#eceeed"/>
<rect x="247.6" y="672" width="6" height="45.6" fill="#f28c5f"/>
<line x1="223.3" y1="717.4" x2="277.5" y2="717.4" stroke="#000" stroke-width="1.6"/>
<polygon points="223.3,717.4 203.3,765.7 244.1,765.7" fill="#000"/>
<polygon points="277.5,717.4 257.4,765.7 297.9,765.7" fill="#000"/>
<polygon points="225.2,665.8 225.2,678.6 247.6,672" fill="#f7931e"/>
<text x="211.8" y="679.7" text-anchor="end">Truncal WGD</text>
<text x="345.5" y="706.8">Post-WGD</text>
<text x="345.5" y="735.1">changes</text>
<rect x="570.7" y="613.5" width="5" height="28.5" fill="#c8c8c8"/>
<line x1="546.1" y1="642.1" x2="601" y2="642.1" stroke="#000" stroke-width="1.6"/>
<polygon points="546.1,642.1 526.2,690.4 566.8,690.4" fill="#000"/>
<rect x="598.2" y="642.1" width="5.5" height="44.7" fill="#c8c8c8"/>
<polygon points="603.7,686.8 684,688.6 684,766.1 603.7,732" fill="#eceeed"/>
<rect x="598.2" y="686.8" width="5.5" height="44.8" fill="#f28c5f"/>
<polygon points="601,731.6 581.4,780.2 621.7,780.2" fill="#000"/>
<polygon points="603.7,686.3 626.1,679.7 626.1,692.8" fill="#f7931e"/>
<text x="635.5" y="676.6">Subclonal WGD</text>
<text x="695" y="720.9">Post-WGD</text>
<text x="695" y="750.4">changes</text>
<text x="917.5" y="656">Number</text>
<text x="917.5" y="685.8">of WGDs</text>
<text x="1033.5" y="685.8">WGD clonality</text>
<text x="1225.5" y="684.8">Event type</text>
<rect x="921.5" y="702.5" width="31.1" height="10.8" fill="#c8c8c8"/>
<text x="963.5" y="716.3">0</text>
<rect x="921.5" y="724.6" width="31.1" height="10.8" fill="#e8956d"/>
<text x="963.5" y="737">1</text>
<rect x="921.5" y="746.7" width="31.1" height="10.8" fill="#9e1c22"/>
<text x="963.5" y="760">2</text>
<rect x="1031.5" y="702.8" width="31.1" height="10.7" fill="#c4dae6"/>
<text x="1075.5" y="716.4">Subclonal</text>
<rect x="1031.5" y="725.1" width="31.1" height="10.7" fill="#0f3f5c"/>
<text x="1075.5" y="741">Truncal</text>
<rect x="1207.2" y="703.4" width="31.1" height="10.7" fill="#a51d22"/>
<text x="1251.5" y="716.8">Chromosome gain</text>
<rect x="1207.2" y="725.3" width="31.1" height="10.7" fill="#e07070"/>
<text x="1251.5" y="738.6">Arm gain</text>
<rect x="1207.2" y="747.6" width="31.1" height="10.7" fill="#2b2d7e"/>
<text x="1251.5" y="762">Chromosome loss</text>
<rect x="1207.2" y="769.5" width="31.1" height="10.7" fill="#4682b4"/>
<text x="1251.5" y="782.8">Arm loss</text>
<rect x="176" y="842" width="37.13" height="21.6" fill="#e8956d"/>
<rect x="176" y="895.3" width="37.13" height="21.7" fill="#c4dae6"/>
<rect x="212.83" y="842" width="37.13" height="21.6" fill="#e8956d"/>
<rect x="212.83" y="895.3" width="37.13" height="21.7" fill="#c4dae6"/>
<rect x="249.66" y="842" width="37.13" height="21.6" fill="#e8956d"/>
<rect x="249.66" y="895.3" width="37.13" height="21.7" fill="#c4dae6"/>
<rect x="286.49" y="842" width="37.13" height="21.6" fill="#e8956d"/>
<rect x="286.49" y="895.3" width="37.13" height="21.7" fill="#c4dae6"/>
<rect x="323.32" y="842" width="37.13" height="21.6" fill="#9e1c22"/>
<rect x="323.32" y="895.3" width="37.13" height="21.7" fill="#c4dae6"/>
<rect x="360.15" y="842" width="37.13" height="21.6" fill="#e8956d"/>
<rect x="360.15" y="895.3" width="37.13" height="21.7" fill="#c4dae6"/>
<rect x="396.98" y="842" width="37.13" height="21.6" fill="#e8956d"/>
<rect x="396.98" y="895.3" width="37.13" height="21.7" fill="#c4dae6"/>
<rect x="433.81" y="842" width="37.13" height="21.6" fill="#e8956d"/>
<rect x="433.81" y="895.3" width="37.13" height="21.7" fill="#c4dae6"/>
<rect x="470.64" y="842" width="37.13" height="21.6" fill="#e8956d"/>
<rect x="470.64" y="895.3" width="37.13" height="21.7" fill="#c4dae6"/>
<rect x="507.47" y="842" width="37.13" height="21.6" fill="#e8956d"/>
<rect x="507.47" y="895.3" width="37.13" height="21.7" fill="#c4dae6"/>
<rect x="544.3" y="842" width="37.13" height="21.6" fill="#e8956d"/>
<rect x="544.3" y="895.3" width="37.13" height="21.7" fill="#c4dae6"/>
<rect x="581.13" y="842" width="37.13" height="21.6" fill="#e8956d"/>
<rect x="581.13" y="895.3" width="37.13" height="21.7" fill="#c4dae6"/>
<rect x="617.96" y="842" width="37.13" height="21.6" fill="#9e1c22"/>
<rect x="617.96" y="895.3" width="37.13" height="21.7" fill="#c4dae6"/>
<rect x="654.79" y="842" width="37.13" height="21.6" fill="#e8956d"/>
<rect x="654.79" y="895.3" width="37.13" height="21.7" fill="#0f3f5c"/>
<rect x="691.62" y="842" width="37.13" height="21.6" fill="#e8956d"/>
<rect x="691.62" y="895.3" width="37.13" height="21.7" fill="#0f3f5c"/>
<rect x="728.45" y="842" width="37.13" height="21.6" fill="#e8956d"/>
<rect x="728.45" y="895.3" width="37.13" height="21.7" fill="#0f3f5c"/>
<rect x="765.28" y="842" width="37.13" height="21.6" fill="#e8956d"/>
<rect x="765.28" y="895.3" width="37.13" height="21.7" fill="#0f3f5c"/>
<rect x="802.11" y="842" width="37.13" height="21.6" fill="#e8956d"/>
<rect x="802.11" y="895.3" width="37.13" height="21.7" fill="#0f3f5c"/>
<rect x="838.94" y="842" width="37.13" height="21.6" fill="#e8956d"/>
<rect x="838.94" y="895.3" width="37.13" height="21.7" fill="#0f3f5c"/>
<rect x="875.77" y="842" width="37.13" height="21.6" fill="#e8956d"/>
<rect x="875.77" y="895.3" width="37.13" height="21.7" fill="#0f3f5c"/>
<rect x="912.6" y="842" width="37.13" height="21.6" fill="#e8956d"/>
<rect x="912.6" y="895.3" width="37.13" height="21.7" fill="#0f3f5c"/>
<rect x="949.43" y="842" width="37.13" height="21.6" fill="#e8956d"/>
<rect x="949.43" y="895.3" width="37.13" height="21.7" fill="#0f3f5c"/>
<rect x="986.26" y="842" width="37.13" height="21.6" fill="#e8956d"/>
<rect x="986.26" y="895.3" width="37.13" height="21.7" fill="#0f3f5c"/>
<rect x="1023.09" y="842" width="37.13" height="21.6" fill="#e8956d"/>
<rect x="1023.09" y="895.3" width="37.13" height="21.7" fill="#0f3f5c"/>
<rect x="1059.92" y="842" width="37.13" height="21.6" fill="#e8956d"/>
<rect x="1059.92" y="895.3" width="37.13" height="21.7" fill="#0f3f5c"/>
<rect x="1096.75" y="842" width="37.13" height="21.6" fill="#e8956d"/>
<rect x="1096.75" y="895.3" width="37.13" height="21.7" fill="#0f3f5c"/>
<rect x="1133.58" y="842" width="37.13" height="21.6" fill="#e8956d"/>
<rect x="1133.58" y="895.3" width="37.13" height="21.7" fill="#0f3f5c"/>
<rect x="1170.41" y="842" width="37.13" height="21.6" fill="#e8956d"/>
<rect x="1170.41" y="895.3" width="37.13" height="21.7" fill="#0f3f5c"/>
<rect x="1207.24" y="842" width="37.13" height="21.6" fill="#e8956d"/>
<rect x="1207.24" y="895.3" width="37.13" height="21.7" fill="#0f3f5c"/>
<rect x="1244.07" y="842" width="37.13" height="21.6" fill="#e8956d"/>
<rect x="1244.07" y="895.3" width="37.13" height="21.7" fill="#0f3f5c"/>
<rect x="1280.9" y="842" width="37.13" height="21.6" fill="#e8956d"/>
<rect x="1280.9" y="895.3" width="37.13" height="21.7" fill="#0f3f5c"/>
<rect x="1317.73" y="842" width="37.13" height="21.6" fill="#e8956d"/>
<rect x="1317.73" y="895.3" width="37.13" height="21.7" fill="#0f3f5c"/>
<rect x="1354.56" y="842" width="37.13" height="21.6" fill="#e8956d"/>
<rect x="1354.56" y="895.3" width="37.13" height="21.7" fill="#0f3f5c"/>
<rect x="1391.39" y="842" width="37.13" height="21.6" fill="#e8956d"/>
<rect x="1391.39" y="895.3" width="37.13" height="21.7" fill="#0f3f5c"/>
<rect x="1428.22" y="842" width="37.13" height="21.6" fill="#e8956d"/>
<rect x="1428.22" y="895.3" width="37.13" height="21.7" fill="#0f3f5c"/>
<text x="162.5" y="831.7" text-anchor="end">Clone</text>
<text x="162.5" y="856.5" text-anchor="end">number</text>
<text x="162.5" y="880.8" text-anchor="end">of WGDs</text>
<text x="162.5" y="912.4" text-anchor="end">WGD clonality</text>
<rect x="179.65" y="1199.5" width="29.5" height="18" fill="#e07070"/>
<rect x="179.65" y="1190.5" width="29.5" height="9" fill="#2b2d7e"/>
<rect x="179.65" y="1172.5" width="29.5" height="18" fill="#4682b4"/>
<rect x="216.48" y="1199.5" width="29.5" height="18" fill="#2b2d7e"/>
<rect x="216.48" y="1181.5" width="29.5" height="18" fill="#4682b4"/>
<rect x="290.14" y="1199.5" width="29.5" height="18" fill="#2b2d7e"/>
<rect x="290.14" y="1190.5" width="29.5" height="9" fill="#4682b4"/>
<rect x="326.97" y="1199.5" width="29.5" height="18" fill="#2b2d7e"/>
<rect x="326.97" y="1190.5" width="29.5" height="9" fill="#4682b4"/>
<rect x="363.8" y="1136.5" width="29.5" height="81" fill="#2b2d7e"/>
<rect x="363.8" y="1100.5" width="29.5" height="36" fill="#4682b4"/>
<rect x="400.63" y="1208.5" width="29.5" height="9" fill="#2b2d7e"/>
<rect x="400.63" y="1172.5" width="29.5" height="36" fill="#4682b4"/>
<rect x="474.29" y="1208.5" width="29.5" height="9" fill="#4682b4"/>
<rect x="511.12" y="1190.5" width="29.5" height="27" fill="#2b2d7e"/>
<rect x="511.12" y="1154.5" width="29.5" height="36" fill="#4682b4"/>
<rect x="547.95" y="1208.5" width="29.5" height="9" fill="#a51d22"/>
<rect x="547.95" y="1199.5" width="29.5" height="9" fill="#e07070"/>
<rect x="547.95" y="1181.5" width="29.5" height="18" fill="#2b2d7e"/>
<rect x="547.95" y="1154.5" width="29.5" height="27" fill="#4682b4"/>
<rect x="621.61" y="1190.5" width="29.5" height="27" fill="#e07070"/>
<rect x="621.61" y="1181.5" width="29.5" height="9" fill="#2b2d7e"/>
<rect x="621.61" y="1154.5" width="29.5" height="27" fill="#4682b4"/>
<rect x="658.44" y="1199.5" width="29.5" height="18" fill="#a51d22"/>
<rect x="658.44" y="1172.5" width="29.5" height="27" fill="#e07070"/>
<rect x="658.44" y="1109.5" width="29.5" height="63" fill="#2b2d7e"/>
<rect x="658.44" y="1046.5" width="29.5" height="63" fill="#4682b4"/>
<rect x="695.27" y="1208.5" width="29.5" height="9" fill="#a51d22"/>
<rect x="695.27" y="1199.5" width="29.5" height="9" fill="#e07070"/>
<rect x="695.27" y="1190.5" width="29.5" height="9" fill="#4682b4"/>
<rect x="732.1" y="1208.5" width="29.5" height="9" fill="#e07070"/>
<rect x="732.1" y="1127.5" width="29.5" height="81" fill="#4682b4"/>
<rect x="768.93" y="1181.5" width="29.5" height="36" fill="#a51d22"/>
<rect x="768.93" y="1154.5" width="29.5" height="27" fill="#e07070"/>
<rect x="768.93" y="1082.5" width="29.5" height="72" fill="#2b2d7e"/>
<rect x="768.93" y="1028.5" width="29.5" height="54" fill="#4682b4"/>
<rect x="805.76" y="1118.5" width="29.5" height="99" fill="#2b2d7e"/>
<rect x="805.76" y="1082.5" width="29.5" height="36" fill="#4682b4"/>
<rect x="842.59" y="1199.5" width="29.5" height="18" fill="#2b2d7e"/>
<rect x="842.59" y="1127.5" width="29.5" height="72" fill="#4682b4"/>
<rect x="879.42" y="1208.5" width="29.5" height="9" fill="#e07070"/>
<rect x="879.42" y="1199.5" width="29.5" height="9" fill="#2b2d7e"/>
<rect x="879.42" y="1154.5" width="29.5" height="45" fill="#4682b4"/>
<rect x="916.25" y="1199.5" width="29.5" height="18" fill="#a51d22"/>
<rect x="916.25" y="1181.5" width="29.5" height="18" fill="#e07070"/>
<rect x="916.25" y="1100.5" width="29.5" height="81" fill="#2b2d7e"/>
<rect x="916.25" y="1082.5" width="29.5" height="18" fill="#4682b4"/>
<rect x="953.08" y="1136.5" width="29.5" height="81" fill="#2b2d7e"/>
<rect x="953.08" y="1037.5" width="29.5" height="99" fill="#4682b4"/>
<rect x="989.91" y="1208.5" width="29.5" height="9" fill="#2b2d7e"/>
<rect x="989.91" y="1163.5" width="29.5" height="45" fill="#4682b4"/>
<rect x="1026.74" y="1208.5" width="29.5" height="9" fill="#e07070"/>
<rect x="1026.74" y="1127.5" width="29.5" height="81" fill="#2b2d7e"/>
<rect x="1026.74" y="1073.5" width="29.5" height="54" fill="#4682b4"/>
<rect x="1063.57" y="1163.5" width="29.5" height="54" fill="#2b2d7e"/>
<rect x="1063.57" y="1109.5" width="29.5" height="54" fill="#4682b4"/>
<rect x="1100.4" y="1109.5" width="29.5" height="108" fill="#2b2d7e"/>
<rect x="1100.4" y="1073.5" width="29.5" height="36" fill="#4682b4"/>
<rect x="1137.23" y="1208.5" width="29.5" height="9" fill="#a51d22"/>
<rect x="1137.23" y="1163.5" width="29.5" height="45" fill="#2b2d7e"/>
<rect x="1137.23" y="1100.5" width="29.5" height="63" fill="#4682b4"/>
<rect x="1174.06" y="1055.5" width="29.5" height="162" fill="#2b2d7e"/>
<rect x="1174.06" y="1019.5" width="29.5" height="36" fill="#4682b4"/>
<rect x="1210.89" y="1208.5" width="29.5" height="9" fill="#e07070"/>
<rect x="1210.89" y="1172.5" width="29.5" height="36" fill="#2b2d7e"/>
<rect x="1210.89" y="1118.5" width="29.5" height="54" fill="#4682b4"/>
<rect x="1247.72" y="1199.5" width="29.5" height="18" fill="#e07070"/>
<rect x="1247.72" y="1127.5" width="29.5" height="72" fill="#2b2d7e"/>
<rect x="1247.72" y="1055.5" width="29.5" height="72" fill="#4682b4"/>
<rect x="1284.55" y="1208.5" width="29.5" height="9" fill="#a51d22"/>
<rect x="1284.55" y="1100.5" width="29.5" height="108" fill="#2b2d7e"/>
<rect x="1284.55" y="1019.5" width="29.5" height="81" fill="#4682b4"/>
<rect x="1321.38" y="1172.5" width="29.5" height="45" fill="#4682b4"/>
<rect x="1358.21" y="1190.5" width="29.5" height="27" fill="#2b2d7e"/>
<rect x="1358.21" y="1100.5" width="29.5" height="90" fill="#4682b4"/>
<rect x="1395.04" y="1181.5" width="29.5" height="36" fill="#2b2d7e"/>
<rect x="1395.04" y="1082.5" width="29.5" height="99" fill="#4682b4"/>
<rect x="1431.87" y="1118.5" width="29.5" height="99" fill="#2b2d7e"/>
<rect x="1431.87" y="1055.5" width="29.5" height="63" fill="#4682b4"/>
<line x1="175.8" y1="946.8" x2="175.8" y2="1218.25" stroke="#262626" stroke-width="1.5"/>
<line x1="175.05" y1="1217.5" x2="1465.4" y2="1217.5" stroke="#000" stroke-width="1.5"/>
<line x1="167.8" y1="1217.5" x2="175.8" y2="1217.5" stroke="#262626" stroke-width="1.5"/>
<text x="155" y="1225" text-anchor="end">0</text>
<line x1="167.8" y1="1127.5" x2="175.8" y2="1127.5" stroke="#262626" stroke-width="1.5"/>
<text x="155" y="1135" text-anchor="end">10</text>
<line x1="167.8" y1="1037.5" x2="175.8" y2="1037.5" stroke="#262626" stroke-width="1.5"/>
<text x="155" y="1045" text-anchor="end">20</text>
<line x1="167.8" y1="947.5" x2="175.8" y2="947.5" stroke="#262626" stroke-width="1.5"/>
<text x="155" y="955" text-anchor="end">30</text>
<line x1="194.4" y1="1217.5" x2="194.4" y2="1226.5" stroke="#262626" stroke-width="1.5"/>
<line x1="231.23" y1="1217.5" x2="231.23" y2="1226.5" stroke="#262626" stroke-width="1.5"/>
<line x1="268.06" y1="1217.5" x2="268.06" y2="1226.5" stroke="#262626" stroke-width="1.5"/>
<line x1="304.89" y1="1217.5" x2="304.89" y2="1226.5" stroke="#262626" stroke-width="1.5"/>
<line x1="341.72" y1="1217.5" x2="341.72" y2="1226.5" stroke="#262626" stroke-width="1.5"/>
<line x1="378.55" y1="1217.5" x2="378.55" y2="1226.5" stroke="#262626" stroke-width="1.5"/>
<line x1="415.38" y1="1217.5" x2="415.38" y2="1226.5" stroke="#262626" stroke-width="1.5"/>
<line x1="452.21" y1="1217.5" x2="452.21" y2="1226.5" stroke="#262626" stroke-width="1.5"/>
<line x1="489.04" y1="1217.5" x2="489.04" y2="1226.5" stroke="#262626" stroke-width="1.5"/>
<line x1="525.87" y1="1217.5" x2="525.87" y2="1226.5" stroke="#262626" stroke-width="1.5"/>
<line x1="562.7" y1="1217.5" x2="562.7" y2="1226.5" stroke="#262626" stroke-width="1.5"/>
<line x1="599.53" y1="1217.5" x2="599.53" y2="1226.5" stroke="#262626" stroke-width="1.5"/>
<line x1="636.36" y1="1217.5" x2="636.36" y2="1226.5" stroke="#262626" stroke-width="1.5"/>
<line x1="673.19" y1="1217.5" x2="673.19" y2="1226.5" stroke="#262626" stroke-width="1.5"/>
<line x1="710.02" y1="1217.5" x2="710.02" y2="1226.5" stroke="#262626" stroke-width="1.5"/>
<line x1="746.85" y1="1217.5" x2="746.85" y2="1226.5" stroke="#262626" stroke-width="1.5"/>
<line x1="783.68" y1="1217.5" x2="783.68" y2="1226.5" stroke="#262626" stroke-width="1.5"/>
<line x1="820.51" y1="1217.5" x2="820.51" y2="1226.5" stroke="#262626" stroke-width="1.5"/>
<line x1="857.34" y1="1217.5" x2="857.34" y2="1226.5" stroke="#262626" stroke-width="1.5"/>
<line x1="894.17" y1="1217.5" x2="894.17" y2="1226.5" stroke="#262626" stroke-width="1.5"/>
<line x1="931" y1="1217.5" x2="931" y2="1226.5" stroke="#262626" stroke-width="1.5"/>
<line x1="967.83" y1="1217.5" x2="967.83" y2="1226.5" stroke="#262626" stroke-width="1.5"/>
<line x1="1004.66" y1="1217.5" x2="1004.66" y2="1226.5" stroke="#262626" stroke-width="1.5"/>
<line x1="1041.49" y1="1217.5" x2="1041.49" y2="1226.5" stroke="#262626" stroke-width="1.5"/>
<line x1="1078.32" y1="1217.5" x2="1078.32" y2="1226.5" stroke="#262626" stroke-width="1.5"/>
<line x1="1115.15" y1="1217.5" x2="1115.15" y2="1226.5" stroke="#262626" stroke-width="1.5"/>
<line x1="1151.98" y1="1217.5" x2="1151.98" y2="1226.5" stroke="#262626" stroke-width="1.5"/>
<line x1="1188.81" y1="1217.5" x2="1188.81" y2="1226.5" stroke="#262626" stroke-width="1.5"/>
<line x1="1225.64" y1="1217.5" x2="1225.64" y2="1226.5" stroke="#262626" stroke-width="1.5"/>
<line x1="1262.47" y1="1217.5" x2="1262.47" y2="1226.5" stroke="#262626" stroke-width="1.5"/>
<line x1="1299.3" y1="1217.5" x2="1299.3" y2="1226.5" stroke="#262626" stroke-width="1.5"/>
<line x1="1336.13" y1="1217.5" x2="1336.13" y2="1226.5" stroke="#262626" stroke-width="1.5"/>
<line x1="1372.96" y1="1217.5" x2="1372.96" y2="1226.5" stroke="#262626" stroke-width="1.5"/>
<line x1="1409.79" y1="1217.5" x2="1409.79" y2="1226.5" stroke="#262626" stroke-width="1.5"/>
<line x1="1446.62" y1="1217.5" x2="1446.62" y2="1226.5" stroke="#262626" stroke-width="1.5"/>
<line x1="176.35" y1="1140.1" x2="1465.4" y2="1140.1" stroke="#000" stroke-width="3.9" stroke-dasharray="4.1 6.094"/>
<line x1="234.4" y1="1137.7" x2="319.4" y2="1077" stroke="#000" stroke-width="2.2"/>
<text x="241.5" y="1035.6">Average divergent cell</text>
<text x="241.5" y="1065">arm + chromosome count</text>
<text x="106" y="1082.6" text-anchor="middle" transform="rotate(-90 106 1082.6)">Event count</text>
<rect x="180" y="1334.57" width="28.8" height="4.53" fill="#e8e7e3" stroke="#111" stroke-width="1.3"/>
<rect x="216.83" y="1333.02" width="28.8" height="6.08" fill="#e8e7e3" stroke="#111" stroke-width="1.3"/>
<rect x="253.66" y="1318.68" width="28.8" height="20.42" fill="#e8e7e3" stroke="#111" stroke-width="1.3"/>
<rect x="290.49" y="1314.48" width="28.8" height="24.62" fill="#e8e7e3" stroke="#111" stroke-width="1.3"/>
<rect x="327.32" y="1311.51" width="28.8" height="27.59" fill="#e8e7e3" stroke="#111" stroke-width="1.3"/>
<rect x="364.15" y="1278.46" width="28.8" height="60.64" fill="#e8e7e3" stroke="#111" stroke-width="1.3"/>
<rect x="400.98" y="1276.68" width="28.8" height="62.42" fill="#e8e7e3" stroke="#111" stroke-width="1.3"/>
<rect x="437.81" y="1262.42" width="28.8" height="76.68" fill="#e8e7e3" stroke="#111" stroke-width="1.3"/>
<rect x="474.64" y="1261.52" width="28.8" height="77.58" fill="#e8e7e3" stroke="#111" stroke-width="1.3"/>
<rect x="511.47" y="1258.79" width="28.8" height="80.31" fill="#e8e7e3" stroke="#111" stroke-width="1.3"/>
<rect x="548.3" y="1256.64" width="28.8" height="82.46" fill="#e8e7e3" stroke="#111" stroke-width="1.3"/>
<rect x="585.13" y="1252.8" width="28.8" height="86.3" fill="#e8e7e3" stroke="#111" stroke-width="1.3"/>
<rect x="621.96" y="1252.8" width="28.8" height="86.3" fill="#e8e7e3" stroke="#111" stroke-width="1.3"/>
<rect x="658.79" y="1251.4" width="28.8" height="87.7" fill="#e8e7e3" stroke="#111" stroke-width="1.3"/>
<rect x="695.62" y="1251.4" width="28.8" height="87.7" fill="#e8e7e3" stroke="#111" stroke-width="1.3"/>
<rect x="732.45" y="1251.4" width="28.8" height="87.7" fill="#e8e7e3" stroke="#111" stroke-width="1.3"/>
<rect x="769.28" y="1251.4" width="28.8" height="87.7" fill="#e8e7e3" stroke="#111" stroke-width="1.3"/>
<rect x="806.11" y="1251.4" width="28.8" height="87.7" fill="#e8e7e3" stroke="#111" stroke-width="1.3"/>
<rect x="842.94" y="1251.4" width="28.8" height="87.7" fill="#e8e7e3" stroke="#111" stroke-width="1.3"/>
<rect x="879.77" y="1251.4" width="28.8" height="87.7" fill="#e8e7e3" stroke="#111" stroke-width="1.3"/>
<rect x="916.6" y="1251.4" width="28.8" height="87.7" fill="#e8e7e3" stroke="#111" stroke-width="1.3"/>
<rect x="953.43" y="1251.4" width="28.8" height="87.7" fill="#e8e7e3" stroke="#111" stroke-width="1.3"/>
<rect x="990.26" y="1251.4" width="28.8" height="87.7" fill="#e8e7e3" stroke="#111" stroke-width="1.3"/>
<rect x="1027.09" y="1251.4" width="28.8" height="87.7" fill="#e8e7e3" stroke="#111" stroke-width="1.3"/>
<rect x="1063.92" y="1251.4" width="28.8" height="87.7" fill="#e8e7e3" stroke="#111" stroke-width="1.3"/>
<rect x="1100.75" y="1251.4" width="28.8" height="87.7" fill="#e8e7e3" stroke="#111" stroke-width="1.3"/>
<rect x="1137.58" y="1251.4" width="28.8" height="87.7" fill="#e8e7e3" stroke="#111" stroke-width="1.3"/>
<rect x="1174.41" y="1251.4" width="28.8" height="87.7" fill="#e8e7e3" stroke="#111" stroke-width="1.3"/>
<rect x="1211.24" y="1251.4" width="28.8" height="87.7" fill="#e8e7e3" stroke="#111" stroke-width="1.3"/>
<rect x="1248.07" y="1251.4" width="28.8" height="87.7" fill="#e8e7e3" stroke="#111" stroke-width="1.3"/>
<rect x="1284.9" y="1251.4" width="28.8" height="87.7" fill="#e8e7e3" stroke="#111" stroke-width="1.3"/>
<rect x="1321.73" y="1251.4" width="28.8" height="87.7" fill="#e8e7e3" stroke="#111" stroke-width="1.3"/>
<rect x="1358.56" y="1251.4" width="28.8" height="87.7" fill="#e8e7e3" stroke="#111" stroke-width="1.3"/>
<rect x="1395.39" y="1251.4" width="28.8" height="87.7" fill="#e8e7e3" stroke="#111" stroke-width="1.3"/>
<rect x="1432.22" y="1251.4" width="28.8" height="87.7" fill="#e8e7e3" stroke="#111" stroke-width="1.3"/>
<line x1="176.3" y1="1248.3" x2="176.3" y2="1339.85" stroke="#262626" stroke-width="1.5"/>
<line x1="175.5" y1="1339.1" x2="1465.4" y2="1339.1" stroke="#262626" stroke-width="1.5"/>
<line x1="166.9" y1="1252.8" x2="176.3" y2="1252.8" stroke="#262626" stroke-width="1.5"/>
<text x="155.8" y="1259.7" text-anchor="end">10<tspan font-size="16.5" dy="-11.7">0</tspan></text>
<line x1="166.9" y1="1294.8" x2="176.3" y2="1294.8" stroke="#262626" stroke-width="1.5"/>
<text x="155.8" y="1301.7" text-anchor="end">10<tspan font-size="16.5" dy="-11.7">−1</tspan></text>
<line x1="166.9" y1="1336.8" x2="176.3" y2="1336.8" stroke="#262626" stroke-width="1.5"/>
<text x="155.8" y="1343.7" text-anchor="end">10<tspan font-size="16.5" dy="-11.7">−2</tspan></text>
<line x1="171.3" y1="1338.72" x2="176.3" y2="1338.72" stroke="#262626" stroke-width="1.1"/>
<line x1="171.3" y1="1324.16" x2="176.3" y2="1324.16" stroke="#262626" stroke-width="1.1"/>
<line x1="171.3" y1="1316.76" x2="176.3" y2="1316.76" stroke="#262626" stroke-width="1.1"/>
<line x1="171.3" y1="1311.51" x2="176.3" y2="1311.51" stroke="#262626" stroke-width="1.1"/>
<line x1="171.3" y1="1307.44" x2="176.3" y2="1307.44" stroke="#262626" stroke-width="1.1"/>
<line x1="171.3" y1="1304.12" x2="176.3" y2="1304.12" stroke="#262626" stroke-width="1.1"/>
<line x1="171.3" y1="1301.31" x2="176.3" y2="1301.31" stroke="#262626" stroke-width="1.1"/>
<line x1="171.3" y1="1298.87" x2="176.3" y2="1298.87" stroke="#262626" stroke-width="1.1"/>
<line x1="171.3" y1="1296.72" x2="176.3" y2="1296.72" stroke="#262626" stroke-width="1.1"/>
<line x1="171.3" y1="1282.16" x2="176.3" y2="1282.16" stroke="#262626" stroke-width="1.1"/>
<line x1="171.3" y1="1274.76" x2="176.3" y2="1274.76" stroke="#262626" stroke-width="1.1"/>
<line x1="171.3" y1="1269.51" x2="176.3" y2="1269.51" stroke="#262626" stroke-width="1.1"/>
<line x1="171.3" y1="1265.44" x2="176.3" y2="1265.44" stroke="#262626" stroke-width="1.1"/>
<line x1="171.3" y1="1262.12" x2="176.3" y2="1262.12" stroke="#262626" stroke-width="1.1"/>
<line x1="171.3" y1="1259.31" x2="176.3" y2="1259.31" stroke="#262626" stroke-width="1.1"/>
<line x1="171.3" y1="1256.87" x2="176.3" y2="1256.87" stroke="#262626" stroke-width="1.1"/>
<line x1="171.3" y1="1254.72" x2="176.3" y2="1254.72" stroke="#262626" stroke-width="1.1"/>
<line x1="194.4" y1="1339.1" x2="194.4" y2="1348.1" stroke="#262626" stroke-width="1.5"/>
<line x1="231.23" y1="1339.1" x2="231.23" y2="1348.1" stroke="#262626" stroke-width="1.5"/>
<line x1="268.06" y1="1339.1" x2="268.06" y2="1348.1" stroke="#262626" stroke-width="1.5"/>
<line x1="304.89" y1="1339.1" x2="304.89" y2="1348.1" stroke="#262626" stroke-width="1.5"/>
<line x1="341.72" y1="1339.1" x2="341.72" y2="1348.1" stroke="#262626" stroke-width="1.5"/>
<line x1="378.55" y1="1339.1" x2="378.55" y2="1348.1" stroke="#262626" stroke-width="1.5"/>
<line x1="415.38" y1="1339.1" x2="415.38" y2="1348.1" stroke="#262626" stroke-width="1.5"/>
<line x1="452.21" y1="1339.1" x2="452.21" y2="1348.1" stroke="#262626" stroke-width="1.5"/>
<line x1="489.04" y1="1339.1" x2="489.04" y2="1348.1" stroke="#262626" stroke-width="1.5"/>
<line x1="525.87" y1="1339.1" x2="525.87" y2="1348.1" stroke="#262626" stroke-width="1.5"/>
<line x1="562.7" y1="1339.1" x2="562.7" y2="1348.1" stroke="#262626" stroke-width="1.5"/>
<line x1="599.53" y1="1339.1" x2="599.53" y2="1348.1" stroke="#262626" stroke-width="1.5"/>
<line x1="636.36" y1="1339.1" x2="636.36" y2="1348.1" stroke="#262626" stroke-width="1.5"/>
<line x1="673.19" y1="1339.1" x2="673.19" y2="1348.1" stroke="#262626" stroke-width="1.5"/>
<line x1="710.02" y1="1339.1" x2="710.02" y2="1348.1" stroke="#262626" stroke-width="1.5"/>
<line x1="746.85" y1="1339.1" x2="746.85" y2="1348.1" stroke="#262626" stroke-width="1.5"/>
<line x1="783.68" y1="1339.1" x2="783.68" y2="1348.1" stroke="#262626" stroke-width="1.5"/>
<line x1="820.51" y1="1339.1" x2="820.51" y2="1348.1" stroke="#262626" stroke-width="1.5"/>
<line x1="857.34" y1="1339.1" x2="857.34" y2="1348.1" stroke="#262626" stroke-width="1.5"/>
<line x1="894.17" y1="1339.1" x2="894.17" y2="1348.1" stroke="#262626" stroke-width="1.5"/>
<line x1="931" y1="1339.1" x2="931" y2="1348.1" stroke="#262626" stroke-width="1.5"/>
<line x1="967.83" y1="1339.1" x2="967.83" y2="1348.1" stroke="#262626" stroke-width="1.5"/>
<line x1="1004.66" y1="1339.1" x2="1004.66" y2="1348.1" stroke="#262626" stroke-width="1.5"/>
<line x1="1041.49" y1="1339.1" x2="1041.49" y2="1348.1" stroke="#262626" stroke-width="1.5"/>
<line x1="1078.32" y1="1339.1" x2="1078.32" y2="1348.1" stroke="#262626" stroke-width="1.5"/>
<line x1="1115.15" y1="1339.1" x2="1115.15" y2="1348.1" stroke="#262626" stroke-width="1.5"/>
<line x1="1151.98" y1="1339.1" x2="1151.98" y2="1348.1" stroke="#262626" stroke-width="1.5"/>
<line x1="1188.81" y1="1339.1" x2="1188.81" y2="1348.1" stroke="#262626" stroke-width="1.5"/>
<line x1="1225.64" y1="1339.1" x2="1225.64" y2="1348.1" stroke="#262626" stroke-width="1.5"/>
<line x1="1262.47" y1="1339.1" x2="1262.47" y2="1348.1" stroke="#262626" stroke-width="1.5"/>
<line x1="1299.3" y1="1339.1" x2="1299.3" y2="1348.1" stroke="#262626" stroke-width="1.5"/>
<line x1="1336.13" y1="1339.1" x2="1336.13" y2="1348.1" stroke="#262626" stroke-width="1.5"/>
<line x1="1372.96" y1="1339.1" x2="1372.96" y2="1348.1" stroke="#262626" stroke-width="1.5"/>
<line x1="1409.79" y1="1339.1" x2="1409.79" y2="1348.1" stroke="#262626" stroke-width="1.5"/>
<line x1="1446.62" y1="1339.1" x2="1446.62" y2="1348.1" stroke="#262626" stroke-width="1.5"/>
<text x="61.3" y="1293.5" text-anchor="middle" transform="rotate(-90 61.3 1293.5)">WGD clone</text>
<text x="91.3" y="1293.5" text-anchor="middle" transform="rotate(-90 91.3 1293.5)">cell fraction</text>
<text x="201.4" y="1371.1" text-anchor="end" transform="rotate(-45 201.4 1371.1)">OV-031/1</text>
<text x="238.23" y="1371.1" text-anchor="end" transform="rotate(-45 238.23 1371.1)">OV-139/1</text>
<text x="275.06" y="1371.1" text-anchor="end" transform="rotate(-45 275.06 1371.1)">OV-006/1</text>
<text x="311.89" y="1371.1" text-anchor="end" transform="rotate(-45 311.89 1371.1)">OV-045/1</text>
<text x="348.72" y="1371.1" text-anchor="end" transform="rotate(-45 348.72 1371.1)">OV-025/1</text>
<text x="385.55" y="1371.1" text-anchor="end" transform="rotate(-45 385.55 1371.1)">OV-025/2</text>
<text x="422.38" y="1371.1" text-anchor="end" transform="rotate(-45 422.38 1371.1)">OV-045/2</text>
<text x="459.21" y="1371.1" text-anchor="end" transform="rotate(-45 459.21 1371.1)">OV-125/1</text>
<text x="496.04" y="1371.1" text-anchor="end" transform="rotate(-45 496.04 1371.1)">OV-081/1</text>
<text x="532.87" y="1371.1" text-anchor="end" transform="rotate(-45 532.87 1371.1)">OV-045/3</text>
<text x="569.7" y="1371.1" text-anchor="end" transform="rotate(-45 569.7 1371.1)">OV-025/3</text>
<text x="606.53" y="1371.1" text-anchor="end" transform="rotate(-45 606.53 1371.1)">OV-075/1</text>
<text x="643.36" y="1371.1" text-anchor="end" transform="rotate(-45 643.36 1371.1)">OV-024/1</text>
<text x="680.19" y="1371.1" text-anchor="end" transform="rotate(-45 680.19 1371.1)">OV-105/1</text>
<text x="717.02" y="1371.1" text-anchor="end" transform="rotate(-45 717.02 1371.1)">OV-110/1</text>
<text x="753.85" y="1371.1" text-anchor="end" transform="rotate(-45 753.85 1371.1)">OV-118/1</text>
<text x="790.68" y="1371.1" text-anchor="end" transform="rotate(-45 790.68 1371.1)">OV-087/1</text>
<text x="827.51" y="1371.1" text-anchor="end" transform="rotate(-45 827.51 1371.1)">OV-083/1</text>
<text x="864.34" y="1371.1" text-anchor="end" transform="rotate(-45 864.34 1371.1)">OV-082/1</text>
<text x="901.17" y="1371.1" text-anchor="end" transform="rotate(-45 901.17 1371.1)">OV-129/1</text>
<text x="938" y="1371.1" text-anchor="end" transform="rotate(-45 938 1371.1)">OV-107/1</text>
<text x="974.83" y="1371.1" text-anchor="end" transform="rotate(-45 974.83 1371.1)">OV-002/1</text>
<text x="1011.66" y="1371.1" text-anchor="end" transform="rotate(-45 1011.66 1371.1)">OV-068/1</text>
<text x="1048.49" y="1371.1" text-anchor="end" transform="rotate(-45 1048.49 1371.1)">OV-065/1</text>
<text x="1085.32" y="1371.1" text-anchor="end" transform="rotate(-45 1085.32 1371.1)">OV-052/1</text>
<text x="1122.15" y="1371.1" text-anchor="end" transform="rotate(-45 1122.15 1371.1)">OV-133/1</text>
<text x="1158.98" y="1371.1" text-anchor="end" transform="rotate(-45 1158.98 1371.1)">OV-049/1</text>
<text x="1195.81" y="1371.1" text-anchor="end" transform="rotate(-45 1195.81 1371.1)">OV-044/1</text>
<text x="1232.64" y="1371.1" text-anchor="end" transform="rotate(-45 1232.64 1371.1)">OV-036/1</text>
<text x="1269.47" y="1371.1" text-anchor="end" transform="rotate(-45 1269.47 1371.1)">OV-024/2</text>
<text x="1306.3" y="1371.1" text-anchor="end" transform="rotate(-45 1306.3 1371.1)">OV-014/1</text>
<text x="1343.13" y="1371.1" text-anchor="end" transform="rotate(-45 1343.13 1371.1)">OV-008/1</text>
<text x="1379.96" y="1371.1" text-anchor="end" transform="rotate(-45 1379.96 1371.1)">OV-003/1</text>
<text x="1416.79" y="1371.1" text-anchor="end" transform="rotate(-45 1416.79 1371.1)">OV-071/1</text>
<text x="1553" y="926.5" font-size="33" font-weight="bold" stroke="#000" stroke-width="1.2">d</text>
<rect x="1663.9" y="1289.35" width="40.2" height="17.15" fill="#a51d22"/>
<rect x="1714.1" y="1304.05" width="40.2" height="2.45" fill="#a51d22"/>
<line x1="1658.9" y1="1000" x2="1658.9" y2="1307.25" stroke="#262626" stroke-width="1.5"/>
<line x1="1658.15" y1="1306.5" x2="1759.3" y2="1306.5" stroke="#262626" stroke-width="1.5"/>
<line x1="1649.4" y1="1306.5" x2="1658.9" y2="1306.5" stroke="#262626" stroke-width="1.5"/>
<text x="1637.5" y="1315.5" text-anchor="end">0</text>
<line x1="1649.4" y1="1236.5" x2="1658.9" y2="1236.5" stroke="#262626" stroke-width="1.5"/>
<text x="1637.5" y="1245.5" text-anchor="end">2</text>
<line x1="1649.4" y1="1166.5" x2="1658.9" y2="1166.5" stroke="#262626" stroke-width="1.5"/>
<text x="1637.5" y="1175.5" text-anchor="end">4</text>
<line x1="1649.4" y1="1096.5" x2="1658.9" y2="1096.5" stroke="#262626" stroke-width="1.5"/>
<text x="1637.5" y="1105.5" text-anchor="end">6</text>
<line x1="1649.4" y1="1026.5" x2="1658.9" y2="1026.5" stroke="#262626" stroke-width="1.5"/>
<text x="1637.5" y="1035.5" text-anchor="end">8</text>
<line x1="1684" y1="1306.5" x2="1684" y2="1315.5" stroke="#262626" stroke-width="1.5"/>
<line x1="1734.2" y1="1306.5" x2="1734.2" y2="1315.5" stroke="#262626" stroke-width="1.5"/>
<line x1="1684" y1="1272.9" x2="1684" y2="1301.95" stroke="#000" stroke-width="2.5"/>
<line x1="1678.4" y1="1272.9" x2="1689.6" y2="1272.9" stroke="#000" stroke-width="2.5"/>
<line x1="1678.4" y1="1301.95" x2="1689.6" y2="1301.95" stroke="#000" stroke-width="2.5"/>
<line x1="1734.2" y1="1298.1" x2="1734.2" y2="1306.5" stroke="#000" stroke-width="2.5"/>
<line x1="1728.6" y1="1298.1" x2="1739.8" y2="1298.1" stroke="#000" stroke-width="2.5"/>
<line x1="1728.6" y1="1306.5" x2="1739.8" y2="1306.5" stroke="#000" stroke-width="2.5"/>
<text x="1709.22" y="935" text-anchor="middle" letter-spacing="0.25">Chromosome</text>
<text x="1709.1" y="960.1" text-anchor="middle">gain</text>
<text x="1688" y="1341.5" text-anchor="end" transform="rotate(-45 1688 1341.5)">Truncal</text>
<text x="1738.2" y="1341.5" text-anchor="end" transform="rotate(-45 1738.2 1341.5)">Subclonal</text>
<rect x="1784.1" y="1283.05" width="40.2" height="23.45" fill="#e07070"/>
<rect x="1834.3" y="1290.75" width="40.2" height="15.75" fill="#e07070"/>
<line x1="1779.1" y1="1000" x2="1779.1" y2="1307.25" stroke="#262626" stroke-width="1.5"/>
<line x1="1778.35" y1="1306.5" x2="1879.5" y2="1306.5" stroke="#262626" stroke-width="1.5"/>
<line x1="1769.6" y1="1306.5" x2="1779.1" y2="1306.5" stroke="#262626" stroke-width="1.5"/>
<line x1="1769.6" y1="1236.5" x2="1779.1" y2="1236.5" stroke="#262626" stroke-width="1.5"/>
<line x1="1769.6" y1="1166.5" x2="1779.1" y2="1166.5" stroke="#262626" stroke-width="1.5"/>
<line x1="1769.6" y1="1096.5" x2="1779.1" y2="1096.5" stroke="#262626" stroke-width="1.5"/>
<line x1="1769.6" y1="1026.5" x2="1779.1" y2="1026.5" stroke="#262626" stroke-width="1.5"/>
<line x1="1804.2" y1="1306.5" x2="1804.2" y2="1315.5" stroke="#262626" stroke-width="1.5"/>
<line x1="1854.4" y1="1306.5" x2="1854.4" y2="1315.5" stroke="#262626" stroke-width="1.5"/>
<line x1="1804.2" y1="1266.6" x2="1804.2" y2="1296" stroke="#000" stroke-width="2.5"/>
<line x1="1798.6" y1="1266.6" x2="1809.8" y2="1266.6" stroke="#000" stroke-width="2.5"/>
<line x1="1798.6" y1="1296" x2="1809.8" y2="1296" stroke="#000" stroke-width="2.5"/>
<line x1="1854.4" y1="1271.15" x2="1854.4" y2="1306.5" stroke="#000" stroke-width="2.5"/>
<line x1="1848.8" y1="1271.15" x2="1860" y2="1271.15" stroke="#000" stroke-width="2.5"/>
<line x1="1848.8" y1="1306.5" x2="1860" y2="1306.5" stroke="#000" stroke-width="2.5"/>
<text x="1829.3" y="935" text-anchor="middle">Arm</text>
<text x="1829.3" y="960.1" text-anchor="middle">gain</text>
<text x="1808.2" y="1341.5" text-anchor="end" transform="rotate(-45 1808.2 1341.5)">Truncal</text>
<text x="1858.4" y="1341.5" text-anchor="end" transform="rotate(-45 1858.4 1341.5)">Subclonal</text>
<rect x="1904.3" y="1083.9" width="40.2" height="222.6" fill="#2b2d7e"/>
<rect x="1954.5" y="1244.2" width="40.2" height="62.3" fill="#2b2d7e"/>
<line x1="1899.3" y1="1000" x2="1899.3" y2="1307.25" stroke="#262626" stroke-width="1.5"/>
<line x1="1898.55" y1="1306.5" x2="1999.7" y2="1306.5" stroke="#262626" stroke-width="1.5"/>
<line x1="1889.8" y1="1306.5" x2="1899.3" y2="1306.5" stroke="#262626" stroke-width="1.5"/>
<line x1="1889.8" y1="1236.5" x2="1899.3" y2="1236.5" stroke="#262626" stroke-width="1.5"/>
<line x1="1889.8" y1="1166.5" x2="1899.3" y2="1166.5" stroke="#262626" stroke-width="1.5"/>
<line x1="1889.8" y1="1096.5" x2="1899.3" y2="1096.5" stroke="#262626" stroke-width="1.5"/>
<line x1="1889.8" y1="1026.5" x2="1899.3" y2="1026.5" stroke="#262626" stroke-width="1.5"/>
<line x1="1924.4" y1="1306.5" x2="1924.4" y2="1315.5" stroke="#262626" stroke-width="1.5"/>
<line x1="1974.6" y1="1306.5" x2="1974.6" y2="1315.5" stroke="#262626" stroke-width="1.5"/>
<line x1="1924.4" y1="1015.3" x2="1924.4" y2="1149" stroke="#000" stroke-width="2.5"/>
<line x1="1918.8" y1="1015.3" x2="1930" y2="1015.3" stroke="#000" stroke-width="2.5"/>
<line x1="1918.8" y1="1149" x2="1930" y2="1149" stroke="#000" stroke-width="2.5"/>
<line x1="1974.6" y1="1195.55" x2="1974.6" y2="1279.2" stroke="#000" stroke-width="2.5"/>
<line x1="1969" y1="1195.55" x2="1980.2" y2="1195.55" stroke="#000" stroke-width="2.5"/>
<line x1="1969" y1="1279.2" x2="1980.2" y2="1279.2" stroke="#000" stroke-width="2.5"/>
<text x="1949.62" y="935" text-anchor="middle" letter-spacing="0.25">Chromosome</text>
<text x="1949.5" y="960.1" text-anchor="middle">loss</text>
<text x="1928.4" y="1341.5" text-anchor="end" transform="rotate(-45 1928.4 1341.5)">Truncal</text>
<text x="1978.6" y="1341.5" text-anchor="end" transform="rotate(-45 1978.6 1341.5)">Subclonal</text>
<rect x="2024.5" y="1081.8" width="40.2" height="224.7" fill="#4682b4"/>
<rect x="2074.7" y="1238.95" width="40.2" height="67.55" fill="#4682b4"/>
<line x1="2019.5" y1="1000" x2="2019.5" y2="1307.25" stroke="#262626" stroke-width="1.5"/>
<line x1="2018.75" y1="1306.5" x2="2119.9" y2="1306.5" stroke="#262626" stroke-width="1.5"/>
<line x1="2010" y1="1306.5" x2="2019.5" y2="1306.5" stroke="#262626" stroke-width="1.5"/>
<line x1="2010" y1="1236.5" x2="2019.5" y2="1236.5" stroke="#262626" stroke-width="1.5"/>
<line x1="2010" y1="1166.5" x2="2019.5" y2="1166.5" stroke="#262626" stroke-width="1.5"/>
<line x1="2010" y1="1096.5" x2="2019.5" y2="1096.5" stroke="#262626" stroke-width="1.5"/>
<line x1="2010" y1="1026.5" x2="2019.5" y2="1026.5" stroke="#262626" stroke-width="1.5"/>
<line x1="2044.6" y1="1306.5" x2="2044.6" y2="1315.5" stroke="#262626" stroke-width="1.5"/>
<line x1="2094.8" y1="1306.5" x2="2094.8" y2="1315.5" stroke="#262626" stroke-width="1.5"/>
<line x1="2044.6" y1="1045.4" x2="2044.6" y2="1121.7" stroke="#000" stroke-width="2.5"/>
<line x1="2039" y1="1045.4" x2="2050.2" y2="1045.4" stroke="#000" stroke-width="2.5"/>
<line x1="2039" y1="1121.7" x2="2050.2" y2="1121.7" stroke="#000" stroke-width="2.5"/>
<line x1="2094.8" y1="1211.65" x2="2094.8" y2="1268.35" stroke="#000" stroke-width="2.5"/>
<line x1="2089.2" y1="1211.65" x2="2100.4" y2="1211.65" stroke="#000" stroke-width="2.5"/>
<line x1="2089.2" y1="1268.35" x2="2100.4" y2="1268.35" stroke="#000" stroke-width="2.5"/>
<text x="2069.7" y="935" text-anchor="middle">Arm</text>
<text x="2069.7" y="960.1" text-anchor="middle">loss</text>
<text x="2048.6" y="1341.5" text-anchor="end" transform="rotate(-45 2048.6 1341.5)">Truncal</text>
<text x="2098.8" y="1341.5" text-anchor="end" transform="rotate(-45 2098.8 1341.5)">Subclonal</text>
<line x1="1682.8" y1="1000.8" x2="1735.9" y2="1000.8" stroke="#000" stroke-width="2.7"/>
<text x="1709.35" y="994.1" text-anchor="middle">NS</text>
<line x1="1803" y1="1000.8" x2="1856.1" y2="1000.8" stroke="#000" stroke-width="2.7"/>
<text x="1829.55" y="994.1" text-anchor="middle">NS</text>
<line x1="1923.2" y1="1000.8" x2="1976.3" y2="1000.8" stroke="#000" stroke-width="2.7"/>
<text x="1950.35" y="1004.2" font-size="28" text-anchor="middle" letter-spacing="1.2">**</text>
<line x1="2043.4" y1="1000.8" x2="2096.5" y2="1000.8" stroke="#000" stroke-width="2.7"/>
<text x="2070.55" y="1004.2" font-size="28" text-anchor="middle" letter-spacing="1.2">****</text>
<text x="1573.2" y="1153" text-anchor="middle" transform="rotate(-90 1573.2 1153)">Post-WGD</text>
<text x="1603.7" y="1153.5" text-anchor="middle" transform="rotate(-90 1603.7 1153.5)">event count</text>
</svg></body></html>
